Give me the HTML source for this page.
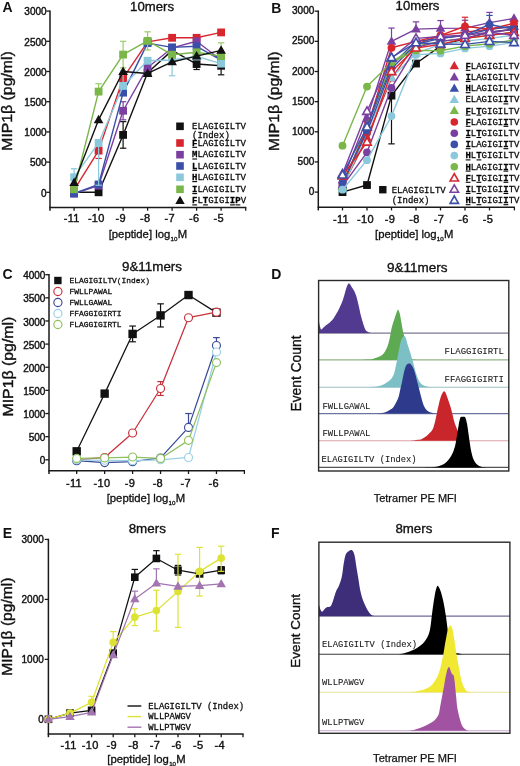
<!DOCTYPE html>
<html><head><meta charset="utf-8"><title>MIP1b figure</title>
<style>html,body{margin:0;padding:0;background:#fff;} svg{display:block;will-change:transform;filter:blur(0.3px);}</style></head>
<body><svg width="520" height="766" viewBox="0 0 520 766">
<rect x="0" y="0" width="520" height="766" fill="#fff"/>
<line x1="50.00" y1="10.40" x2="50.00" y2="210.70" stroke="#1a1a1a" stroke-width="1.5" />
<line x1="49.30" y1="207.50" x2="246.30" y2="207.50" stroke="#1a1a1a" stroke-width="1.5" />
<line x1="46.30" y1="192.30" x2="50.00" y2="192.30" stroke="#1a1a1a" stroke-width="1.3" />
<text x="46.60" y="196.60" font-size="10" text-anchor="end" font-family="'Liberation Sans', sans-serif" font-weight="normal" fill="#111" letter-spacing="0" stroke="#111" stroke-width="0.4">0</text>
<line x1="46.30" y1="162.10" x2="50.00" y2="162.10" stroke="#1a1a1a" stroke-width="1.3" />
<text x="46.60" y="166.40" font-size="10" text-anchor="end" font-family="'Liberation Sans', sans-serif" font-weight="normal" fill="#111" letter-spacing="0" stroke="#111" stroke-width="0.4">500</text>
<line x1="46.30" y1="131.90" x2="50.00" y2="131.90" stroke="#1a1a1a" stroke-width="1.3" />
<text x="46.60" y="136.20" font-size="10" text-anchor="end" font-family="'Liberation Sans', sans-serif" font-weight="normal" fill="#111" letter-spacing="0" stroke="#111" stroke-width="0.4">1000</text>
<line x1="46.30" y1="101.70" x2="50.00" y2="101.70" stroke="#1a1a1a" stroke-width="1.3" />
<text x="46.60" y="106.00" font-size="10" text-anchor="end" font-family="'Liberation Sans', sans-serif" font-weight="normal" fill="#111" letter-spacing="0" stroke="#111" stroke-width="0.4">1500</text>
<line x1="46.30" y1="71.50" x2="50.00" y2="71.50" stroke="#1a1a1a" stroke-width="1.3" />
<text x="46.60" y="75.80" font-size="10" text-anchor="end" font-family="'Liberation Sans', sans-serif" font-weight="normal" fill="#111" letter-spacing="0" stroke="#111" stroke-width="0.4">2000</text>
<line x1="46.30" y1="41.30" x2="50.00" y2="41.30" stroke="#1a1a1a" stroke-width="1.3" />
<text x="46.60" y="45.60" font-size="10" text-anchor="end" font-family="'Liberation Sans', sans-serif" font-weight="normal" fill="#111" letter-spacing="0" stroke="#111" stroke-width="0.4">2500</text>
<line x1="46.30" y1="11.10" x2="50.00" y2="11.10" stroke="#1a1a1a" stroke-width="1.3" />
<text x="46.60" y="15.40" font-size="10" text-anchor="end" font-family="'Liberation Sans', sans-serif" font-weight="normal" fill="#111" letter-spacing="0" stroke="#111" stroke-width="0.4">3000</text>
<line x1="74.10" y1="207.50" x2="74.10" y2="210.70" stroke="#1a1a1a" stroke-width="1.3" />
<line x1="98.60" y1="207.50" x2="98.60" y2="210.70" stroke="#1a1a1a" stroke-width="1.3" />
<line x1="123.10" y1="207.50" x2="123.10" y2="210.70" stroke="#1a1a1a" stroke-width="1.3" />
<line x1="147.60" y1="207.50" x2="147.60" y2="210.70" stroke="#1a1a1a" stroke-width="1.3" />
<line x1="172.10" y1="207.50" x2="172.10" y2="210.70" stroke="#1a1a1a" stroke-width="1.3" />
<line x1="196.60" y1="207.50" x2="196.60" y2="210.70" stroke="#1a1a1a" stroke-width="1.3" />
<line x1="221.10" y1="207.50" x2="221.10" y2="210.70" stroke="#1a1a1a" stroke-width="1.3" />
<line x1="245.70" y1="207.50" x2="245.70" y2="210.70" stroke="#1a1a1a" stroke-width="1.3" />
<text x="71.80" y="222.20" font-size="11" text-anchor="middle" font-family="'Liberation Sans', sans-serif" font-weight="normal" fill="#111" letter-spacing="0.3" stroke="#111" stroke-width="0.4">-11</text>
<text x="96.30" y="222.20" font-size="11" text-anchor="middle" font-family="'Liberation Sans', sans-serif" font-weight="normal" fill="#111" letter-spacing="0.3" stroke="#111" stroke-width="0.4">-10</text>
<text x="120.80" y="222.20" font-size="11" text-anchor="middle" font-family="'Liberation Sans', sans-serif" font-weight="normal" fill="#111" letter-spacing="0.3" stroke="#111" stroke-width="0.4">-9</text>
<text x="145.30" y="222.20" font-size="11" text-anchor="middle" font-family="'Liberation Sans', sans-serif" font-weight="normal" fill="#111" letter-spacing="0.3" stroke="#111" stroke-width="0.4">-8</text>
<text x="169.80" y="222.20" font-size="11" text-anchor="middle" font-family="'Liberation Sans', sans-serif" font-weight="normal" fill="#111" letter-spacing="0.3" stroke="#111" stroke-width="0.4">-7</text>
<text x="194.30" y="222.20" font-size="11" text-anchor="middle" font-family="'Liberation Sans', sans-serif" font-weight="normal" fill="#111" letter-spacing="0.3" stroke="#111" stroke-width="0.4">-6</text>
<text x="218.80" y="222.20" font-size="11" text-anchor="middle" font-family="'Liberation Sans', sans-serif" font-weight="normal" fill="#111" letter-spacing="0.3" stroke="#111" stroke-width="0.4">-5</text>
<text x="108.70" y="237.60" font-size="11.3" font-family="'Liberation Sans', sans-serif" fill="#111" stroke="#111" stroke-width="0.32">[peptide] log<tspan font-size="6.2" dy="3.0" dx="0.3">10</tspan><tspan dy="-3.0" dx="0.2">M</tspan></text>
<text transform="translate(12.10,101.00) rotate(-90)" font-size="15.5" text-anchor="middle" font-family="'Liberation Sans', sans-serif" fill="#111" stroke="#111" stroke-width="0.4" textLength="99.5" lengthAdjust="spacingAndGlyphs">MIP1β (pg/ml)</text>
<text x="130.10" y="10.60" font-size="13.2" text-anchor="start" font-family="'Liberation Sans', sans-serif" font-weight="normal" fill="#111" stroke="#111" stroke-width="0.35" textLength="43.9" lengthAdjust="spacingAndGlyphs">10mers</text>
<text x="2.40" y="11.80" font-size="14" text-anchor="start" font-family="'Liberation Sans', sans-serif" font-weight="bold" fill="#111" >A</text>
<polyline points="74.10,192.30 98.60,192.30 123.10,134.92 147.60,72.71 172.10,50.36 196.60,64.07 221.10,65.76" fill="none" stroke="#111111" stroke-width="1.4" stroke-linejoin="round" />
<line x1="123.10" y1="134.92" x2="123.10" y2="121.63" stroke="#111111" stroke-width="1.2" />
<line x1="119.90" y1="121.63" x2="126.30" y2="121.63" stroke="#111111" stroke-width="1.2" />
<line x1="123.10" y1="134.92" x2="123.10" y2="148.21" stroke="#111111" stroke-width="1.2" />
<line x1="119.90" y1="148.21" x2="126.30" y2="148.21" stroke="#111111" stroke-width="1.2" />
<line x1="196.60" y1="64.07" x2="196.60" y2="69.51" stroke="#111111" stroke-width="1.2" />
<line x1="193.40" y1="69.51" x2="199.80" y2="69.51" stroke="#111111" stroke-width="1.2" />
<line x1="221.10" y1="65.76" x2="221.10" y2="74.82" stroke="#111111" stroke-width="1.2" />
<line x1="217.90" y1="74.82" x2="224.30" y2="74.82" stroke="#111111" stroke-width="1.2" />
<rect x="70.20" y="188.40" width="7.80" height="7.80" fill="#111111"/>
<rect x="94.70" y="188.40" width="7.80" height="7.80" fill="#111111"/>
<rect x="119.20" y="131.02" width="7.80" height="7.80" fill="#111111"/>
<rect x="143.70" y="68.81" width="7.80" height="7.80" fill="#111111"/>
<rect x="168.20" y="46.46" width="7.80" height="7.80" fill="#111111"/>
<rect x="192.70" y="60.17" width="7.80" height="7.80" fill="#111111"/>
<rect x="217.20" y="61.86" width="7.80" height="7.80" fill="#111111"/>
<polyline points="74.10,189.88 98.60,150.62 123.10,78.14 147.60,41.90 172.10,37.80 196.60,37.80 221.10,32.42" fill="none" stroke="#d8262e" stroke-width="1.4" stroke-linejoin="round" />
<line x1="98.60" y1="150.62" x2="98.60" y2="158.48" stroke="#d8262e" stroke-width="1.2" />
<line x1="95.40" y1="158.48" x2="101.80" y2="158.48" stroke="#d8262e" stroke-width="1.2" />
<rect x="70.20" y="185.98" width="7.80" height="7.80" fill="#d8262e"/>
<rect x="94.70" y="146.72" width="7.80" height="7.80" fill="#d8262e"/>
<rect x="119.20" y="74.24" width="7.80" height="7.80" fill="#d8262e"/>
<rect x="143.70" y="38.00" width="7.80" height="7.80" fill="#d8262e"/>
<rect x="168.20" y="33.90" width="7.80" height="7.80" fill="#d8262e"/>
<rect x="192.70" y="33.90" width="7.80" height="7.80" fill="#d8262e"/>
<rect x="217.20" y="28.52" width="7.80" height="7.80" fill="#d8262e"/>
<polyline points="74.10,193.51 98.60,185.66 123.10,110.76 147.60,67.45 172.10,47.94 196.60,41.30 221.10,60.02" fill="none" stroke="#7b3fa0" stroke-width="1.4" stroke-linejoin="round" />
<line x1="123.10" y1="110.76" x2="123.10" y2="101.70" stroke="#7b3fa0" stroke-width="1.2" />
<line x1="119.90" y1="101.70" x2="126.30" y2="101.70" stroke="#7b3fa0" stroke-width="1.2" />
<line x1="123.10" y1="110.76" x2="123.10" y2="119.82" stroke="#7b3fa0" stroke-width="1.2" />
<line x1="119.90" y1="119.82" x2="126.30" y2="119.82" stroke="#7b3fa0" stroke-width="1.2" />
<rect x="70.20" y="189.61" width="7.80" height="7.80" fill="#7b3fa0"/>
<rect x="94.70" y="181.76" width="7.80" height="7.80" fill="#7b3fa0"/>
<rect x="119.20" y="106.86" width="7.80" height="7.80" fill="#7b3fa0"/>
<rect x="143.70" y="63.55" width="7.80" height="7.80" fill="#7b3fa0"/>
<rect x="168.20" y="44.04" width="7.80" height="7.80" fill="#7b3fa0"/>
<rect x="192.70" y="37.40" width="7.80" height="7.80" fill="#7b3fa0"/>
<rect x="217.20" y="56.12" width="7.80" height="7.80" fill="#7b3fa0"/>
<polyline points="74.10,193.51 98.60,184.45 123.10,92.64 147.60,43.11 172.10,47.34 196.60,46.31 221.10,60.02" fill="none" stroke="#3a4fa8" stroke-width="1.4" stroke-linejoin="round" />
<rect x="70.20" y="189.61" width="7.80" height="7.80" fill="#3a4fa8"/>
<rect x="94.70" y="180.55" width="7.80" height="7.80" fill="#3a4fa8"/>
<rect x="119.20" y="88.74" width="7.80" height="7.80" fill="#3a4fa8"/>
<rect x="143.70" y="39.21" width="7.80" height="7.80" fill="#3a4fa8"/>
<rect x="168.20" y="43.44" width="7.80" height="7.80" fill="#3a4fa8"/>
<rect x="192.70" y="42.41" width="7.80" height="7.80" fill="#3a4fa8"/>
<rect x="217.20" y="56.12" width="7.80" height="7.80" fill="#3a4fa8"/>
<polyline points="74.10,177.20 98.60,142.95 123.10,86.00 147.60,60.75 172.10,60.02 196.60,56.40 221.10,63.65" fill="none" stroke="#8cc8dc" stroke-width="1.4" stroke-linejoin="round" />
<line x1="74.10" y1="177.20" x2="74.10" y2="168.74" stroke="#8cc8dc" stroke-width="1.2" />
<line x1="70.90" y1="168.74" x2="77.30" y2="168.74" stroke="#8cc8dc" stroke-width="1.2" />
<line x1="98.60" y1="142.95" x2="98.60" y2="185.23" stroke="#8cc8dc" stroke-width="1.2" />
<line x1="95.40" y1="185.23" x2="101.80" y2="185.23" stroke="#8cc8dc" stroke-width="1.2" />
<line x1="123.10" y1="86.00" x2="123.10" y2="70.90" stroke="#8cc8dc" stroke-width="1.2" />
<line x1="119.90" y1="70.90" x2="126.30" y2="70.90" stroke="#8cc8dc" stroke-width="1.2" />
<line x1="172.10" y1="60.02" x2="172.10" y2="75.73" stroke="#8cc8dc" stroke-width="1.2" />
<line x1="168.90" y1="75.73" x2="175.30" y2="75.73" stroke="#8cc8dc" stroke-width="1.2" />
<rect x="70.20" y="173.30" width="7.80" height="7.80" fill="#8cc8dc"/>
<rect x="94.70" y="139.05" width="7.80" height="7.80" fill="#8cc8dc"/>
<rect x="119.20" y="82.10" width="7.80" height="7.80" fill="#8cc8dc"/>
<rect x="143.70" y="56.85" width="7.80" height="7.80" fill="#8cc8dc"/>
<rect x="168.20" y="56.12" width="7.80" height="7.80" fill="#8cc8dc"/>
<rect x="192.70" y="52.50" width="7.80" height="7.80" fill="#8cc8dc"/>
<rect x="217.20" y="59.75" width="7.80" height="7.80" fill="#8cc8dc"/>
<polyline points="74.10,189.28 98.60,91.61 123.10,54.59 147.60,40.88 172.10,54.71 196.60,52.29 221.10,56.10" fill="none" stroke="#7ab648" stroke-width="1.4" stroke-linejoin="round" />
<line x1="98.60" y1="91.61" x2="98.60" y2="83.76" stroke="#9acb6a" stroke-width="1.2" />
<line x1="95.40" y1="83.76" x2="101.80" y2="83.76" stroke="#9acb6a" stroke-width="1.2" />
<line x1="123.10" y1="54.59" x2="123.10" y2="41.30" stroke="#9acb6a" stroke-width="1.2" />
<line x1="119.90" y1="41.30" x2="126.30" y2="41.30" stroke="#9acb6a" stroke-width="1.2" />
<line x1="123.10" y1="54.59" x2="123.10" y2="67.88" stroke="#9acb6a" stroke-width="1.2" />
<line x1="119.90" y1="67.88" x2="126.30" y2="67.88" stroke="#9acb6a" stroke-width="1.2" />
<line x1="147.60" y1="40.88" x2="147.60" y2="31.82" stroke="#9acb6a" stroke-width="1.2" />
<line x1="144.40" y1="31.82" x2="150.80" y2="31.82" stroke="#9acb6a" stroke-width="1.2" />
<line x1="147.60" y1="40.88" x2="147.60" y2="49.94" stroke="#9acb6a" stroke-width="1.2" />
<line x1="144.40" y1="49.94" x2="150.80" y2="49.94" stroke="#9acb6a" stroke-width="1.2" />
<line x1="221.10" y1="56.10" x2="221.10" y2="42.81" stroke="#9acb6a" stroke-width="1.2" />
<line x1="217.90" y1="42.81" x2="224.30" y2="42.81" stroke="#9acb6a" stroke-width="1.2" />
<rect x="70.20" y="185.38" width="7.80" height="7.80" fill="#7ab648"/>
<rect x="94.70" y="87.71" width="7.80" height="7.80" fill="#7ab648"/>
<rect x="119.20" y="50.69" width="7.80" height="7.80" fill="#7ab648"/>
<rect x="143.70" y="36.98" width="7.80" height="7.80" fill="#7ab648"/>
<rect x="168.20" y="50.81" width="7.80" height="7.80" fill="#7ab648"/>
<rect x="192.70" y="48.39" width="7.80" height="7.80" fill="#7ab648"/>
<rect x="217.20" y="52.20" width="7.80" height="7.80" fill="#7ab648"/>
<polyline points="74.10,182.64 98.60,119.82 123.10,71.50 147.60,73.49 172.10,61.96 196.60,56.10 221.10,50.36" fill="none" stroke="#111111" stroke-width="1.4" stroke-linejoin="round" />
<polygon points="74.10,177.56 78.94,186.02 69.26,186.02" fill="#111111"/>
<polygon points="98.60,114.74 103.44,123.21 93.76,123.21" fill="#111111"/>
<polygon points="123.10,66.42 127.94,74.89 118.26,74.89" fill="#111111"/>
<polygon points="147.60,68.42 152.44,76.88 142.76,76.88" fill="#111111"/>
<polygon points="172.10,56.88 176.94,65.34 167.26,65.34" fill="#111111"/>
<polygon points="196.60,51.02 201.44,59.48 191.76,59.48" fill="#111111"/>
<polygon points="221.10,45.28 225.94,53.75 216.26,53.75" fill="#111111"/>
<rect x="176.20" y="122.50" width="7.60" height="7.60" fill="#111"/>
<text x="192.00" y="129.00" font-size="9" font-family="'Liberation Mono', monospace" font-weight="normal" fill="#0a0a0a" stroke="#0a0a0a" stroke-width="0.28" xml:space="preserve">ELAGIGILTV</text>
<text x="192.00" y="137.60" font-size="9" font-family="'Liberation Mono', monospace" font-weight="normal" fill="#0a0a0a" stroke="#0a0a0a" stroke-width="0.28" xml:space="preserve">(Index)</text>
<rect x="176.20" y="139.20" width="7.60" height="7.60" fill="#d8262e"/>
<text x="192.00" y="145.70" font-size="9" font-family="'Liberation Mono', monospace" font-weight="normal" fill="#0a0a0a" stroke="#0a0a0a" stroke-width="0.28" xml:space="preserve"><tspan font-weight="bold" fill="#000">F</tspan>LAGIGILTV</text>
<line x1="192.30" y1="147.30" x2="197.10" y2="147.30" stroke="#000" stroke-width="1.1" />
<rect x="176.20" y="150.90" width="7.60" height="7.60" fill="#7b3fa0"/>
<text x="192.00" y="157.40" font-size="9" font-family="'Liberation Mono', monospace" font-weight="normal" fill="#0a0a0a" stroke="#0a0a0a" stroke-width="0.28" xml:space="preserve"><tspan font-weight="bold" fill="#000">M</tspan>LAGIGILTV</text>
<line x1="192.30" y1="159.00" x2="197.10" y2="159.00" stroke="#000" stroke-width="1.1" />
<rect x="176.20" y="162.20" width="7.60" height="7.60" fill="#3a4fa8"/>
<text x="192.00" y="168.70" font-size="9" font-family="'Liberation Mono', monospace" font-weight="normal" fill="#0a0a0a" stroke="#0a0a0a" stroke-width="0.28" xml:space="preserve"><tspan font-weight="bold" fill="#000">L</tspan>LAGIGILTV</text>
<line x1="192.30" y1="170.30" x2="197.10" y2="170.30" stroke="#000" stroke-width="1.1" />
<rect x="176.20" y="173.50" width="7.60" height="7.60" fill="#8cc8dc"/>
<text x="192.00" y="180.00" font-size="9" font-family="'Liberation Mono', monospace" font-weight="normal" fill="#0a0a0a" stroke="#0a0a0a" stroke-width="0.28" xml:space="preserve"><tspan font-weight="bold" fill="#000">H</tspan>LAGIGILTV</text>
<line x1="192.30" y1="181.60" x2="197.10" y2="181.60" stroke="#000" stroke-width="1.1" />
<rect x="176.20" y="185.50" width="7.60" height="7.60" fill="#7ab648"/>
<text x="192.00" y="192.00" font-size="9" font-family="'Liberation Mono', monospace" font-weight="normal" fill="#0a0a0a" stroke="#0a0a0a" stroke-width="0.28" xml:space="preserve"><tspan font-weight="bold" fill="#000">I</tspan>LAGIGILTV</text>
<line x1="192.30" y1="193.60" x2="197.10" y2="193.60" stroke="#000" stroke-width="1.1" />
<polygon points="180.00,195.65 184.71,203.90 175.29,203.90" fill="#111"/>
<text x="192.00" y="203.30" font-size="9" font-family="'Liberation Mono', monospace" font-weight="normal" fill="#0a0a0a" stroke="#0a0a0a" stroke-width="0.28" xml:space="preserve"><tspan font-weight="bold" fill="#000">F</tspan>L<tspan font-weight="bold" fill="#000">T</tspan>GIGI<tspan font-weight="bold" fill="#000">I</tspan><tspan font-weight="bold" fill="#000">P</tspan>V</text>
<line x1="192.30" y1="204.90" x2="197.10" y2="204.90" stroke="#000" stroke-width="1.1" />
<line x1="203.10" y1="204.90" x2="207.90" y2="204.90" stroke="#000" stroke-width="1.1" />
<line x1="230.10" y1="204.90" x2="234.90" y2="204.90" stroke="#000" stroke-width="1.1" />
<line x1="235.50" y1="204.90" x2="240.30" y2="204.90" stroke="#000" stroke-width="1.1" />
<line x1="318.30" y1="10.50" x2="318.30" y2="210.40" stroke="#1a1a1a" stroke-width="1.5" />
<line x1="317.60" y1="207.20" x2="515.00" y2="207.20" stroke="#1a1a1a" stroke-width="1.5" />
<line x1="314.60" y1="192.10" x2="318.30" y2="192.10" stroke="#1a1a1a" stroke-width="1.3" />
<text x="314.30" y="195.20" font-size="10" text-anchor="end" font-family="'Liberation Sans', sans-serif" font-weight="normal" fill="#111" letter-spacing="0" stroke="#111" stroke-width="0.4">0</text>
<line x1="314.60" y1="161.95" x2="318.30" y2="161.95" stroke="#1a1a1a" stroke-width="1.3" />
<text x="314.30" y="165.05" font-size="10" text-anchor="end" font-family="'Liberation Sans', sans-serif" font-weight="normal" fill="#111" letter-spacing="0" stroke="#111" stroke-width="0.4">500</text>
<line x1="314.60" y1="131.80" x2="318.30" y2="131.80" stroke="#1a1a1a" stroke-width="1.3" />
<text x="314.30" y="134.90" font-size="10" text-anchor="end" font-family="'Liberation Sans', sans-serif" font-weight="normal" fill="#111" letter-spacing="0" stroke="#111" stroke-width="0.4">1000</text>
<line x1="314.60" y1="101.65" x2="318.30" y2="101.65" stroke="#1a1a1a" stroke-width="1.3" />
<text x="314.30" y="104.75" font-size="10" text-anchor="end" font-family="'Liberation Sans', sans-serif" font-weight="normal" fill="#111" letter-spacing="0" stroke="#111" stroke-width="0.4">1500</text>
<line x1="314.60" y1="71.50" x2="318.30" y2="71.50" stroke="#1a1a1a" stroke-width="1.3" />
<text x="314.30" y="74.60" font-size="10" text-anchor="end" font-family="'Liberation Sans', sans-serif" font-weight="normal" fill="#111" letter-spacing="0" stroke="#111" stroke-width="0.4">2000</text>
<line x1="314.60" y1="41.35" x2="318.30" y2="41.35" stroke="#1a1a1a" stroke-width="1.3" />
<text x="314.30" y="44.45" font-size="10" text-anchor="end" font-family="'Liberation Sans', sans-serif" font-weight="normal" fill="#111" letter-spacing="0" stroke="#111" stroke-width="0.4">2500</text>
<line x1="314.60" y1="11.20" x2="318.30" y2="11.20" stroke="#1a1a1a" stroke-width="1.3" />
<text x="314.30" y="14.30" font-size="10" text-anchor="end" font-family="'Liberation Sans', sans-serif" font-weight="normal" fill="#111" letter-spacing="0" stroke="#111" stroke-width="0.4">3000</text>
<line x1="342.50" y1="207.20" x2="342.50" y2="210.40" stroke="#1a1a1a" stroke-width="1.3" />
<line x1="367.00" y1="207.20" x2="367.00" y2="210.40" stroke="#1a1a1a" stroke-width="1.3" />
<line x1="391.50" y1="207.20" x2="391.50" y2="210.40" stroke="#1a1a1a" stroke-width="1.3" />
<line x1="416.00" y1="207.20" x2="416.00" y2="210.40" stroke="#1a1a1a" stroke-width="1.3" />
<line x1="440.50" y1="207.20" x2="440.50" y2="210.40" stroke="#1a1a1a" stroke-width="1.3" />
<line x1="465.00" y1="207.20" x2="465.00" y2="210.40" stroke="#1a1a1a" stroke-width="1.3" />
<line x1="489.50" y1="207.20" x2="489.50" y2="210.40" stroke="#1a1a1a" stroke-width="1.3" />
<line x1="514.40" y1="207.20" x2="514.40" y2="210.40" stroke="#1a1a1a" stroke-width="1.3" />
<text x="341.00" y="223.20" font-size="11" text-anchor="middle" font-family="'Liberation Sans', sans-serif" font-weight="normal" fill="#111" letter-spacing="0.3" stroke="#111" stroke-width="0.4">-11</text>
<text x="365.50" y="223.20" font-size="11" text-anchor="middle" font-family="'Liberation Sans', sans-serif" font-weight="normal" fill="#111" letter-spacing="0.3" stroke="#111" stroke-width="0.4">-10</text>
<text x="390.00" y="223.20" font-size="11" text-anchor="middle" font-family="'Liberation Sans', sans-serif" font-weight="normal" fill="#111" letter-spacing="0.3" stroke="#111" stroke-width="0.4">-9</text>
<text x="414.50" y="223.20" font-size="11" text-anchor="middle" font-family="'Liberation Sans', sans-serif" font-weight="normal" fill="#111" letter-spacing="0.3" stroke="#111" stroke-width="0.4">-8</text>
<text x="439.00" y="223.20" font-size="11" text-anchor="middle" font-family="'Liberation Sans', sans-serif" font-weight="normal" fill="#111" letter-spacing="0.3" stroke="#111" stroke-width="0.4">-7</text>
<text x="463.50" y="223.20" font-size="11" text-anchor="middle" font-family="'Liberation Sans', sans-serif" font-weight="normal" fill="#111" letter-spacing="0.3" stroke="#111" stroke-width="0.4">-6</text>
<text x="488.00" y="223.20" font-size="11" text-anchor="middle" font-family="'Liberation Sans', sans-serif" font-weight="normal" fill="#111" letter-spacing="0.3" stroke="#111" stroke-width="0.4">-5</text>
<text x="375.00" y="238.20" font-size="11.3" font-family="'Liberation Sans', sans-serif" fill="#111" stroke="#111" stroke-width="0.32">[peptide] log<tspan font-size="6.2" dy="3.0" dx="0.3">10</tspan><tspan dy="-3.0" dx="0.2">M</tspan></text>
<text transform="translate(278.50,101.20) rotate(-90)" font-size="15.5" text-anchor="middle" font-family="'Liberation Sans', sans-serif" fill="#111" stroke="#111" stroke-width="0.4" textLength="99.5" lengthAdjust="spacingAndGlyphs">MIP1β (pg/ml)</text>
<text x="395.60" y="9.80" font-size="13.2" text-anchor="start" font-family="'Liberation Sans', sans-serif" font-weight="normal" fill="#111" stroke="#111" stroke-width="0.35" textLength="43.8" lengthAdjust="spacingAndGlyphs">10mers</text>
<text x="271.30" y="12.70" font-size="14" text-anchor="start" font-family="'Liberation Sans', sans-serif" font-weight="bold" fill="#111" >B</text>
<polyline points="342.50,192.10 367.00,185.04 391.50,95.62 416.00,63.54 440.50,46.17 465.00,38.34 489.50,32.31 514.00,29.29" fill="none" stroke="#111" stroke-width="1.4" stroke-linejoin="round" />
<line x1="391.50" y1="95.62" x2="391.50" y2="143.86" stroke="#111" stroke-width="1.2" />
<line x1="388.30" y1="143.86" x2="394.70" y2="143.86" stroke="#111" stroke-width="1.2" />
<rect x="338.60" y="188.20" width="7.80" height="7.80" fill="#111"/>
<rect x="363.10" y="181.14" width="7.80" height="7.80" fill="#111"/>
<rect x="387.60" y="91.72" width="7.80" height="7.80" fill="#111"/>
<rect x="412.10" y="59.64" width="7.80" height="7.80" fill="#111"/>
<rect x="436.60" y="42.27" width="7.80" height="7.80" fill="#111"/>
<rect x="461.10" y="34.44" width="7.80" height="7.80" fill="#111"/>
<rect x="485.60" y="28.41" width="7.80" height="7.80" fill="#111"/>
<rect x="510.10" y="25.39" width="7.80" height="7.80" fill="#111"/>
<polyline points="342.50,186.07 367.00,137.83 391.50,78.13 416.00,44.37 440.50,35.32 465.00,32.31 489.50,29.29 514.00,26.28" fill="none" stroke="#d8262e" stroke-width="1.4" stroke-linejoin="round" />
<polygon points="342.50,180.99 347.34,189.46 337.66,189.46" fill="#d8262e"/>
<polygon points="367.00,132.75 371.84,141.22 362.16,141.22" fill="#d8262e"/>
<polygon points="391.50,73.06 396.34,81.52 386.66,81.52" fill="#d8262e"/>
<polygon points="416.00,39.29 420.84,47.75 411.16,47.75" fill="#d8262e"/>
<polygon points="440.50,30.24 445.34,38.71 435.66,38.71" fill="#d8262e"/>
<polygon points="465.00,27.23 469.84,35.69 460.16,35.69" fill="#d8262e"/>
<polygon points="489.50,24.21 494.34,32.68 484.66,32.68" fill="#d8262e"/>
<polygon points="514.00,21.20 518.84,29.66 509.16,29.66" fill="#d8262e"/>
<polyline points="342.50,180.04 367.00,118.53 391.50,41.35 416.00,29.11 440.50,28.39 465.00,28.08 489.50,22.66 514.00,18.44" fill="none" stroke="#7b3fa0" stroke-width="1.4" stroke-linejoin="round" />
<line x1="391.50" y1="41.35" x2="391.50" y2="28.08" stroke="#7b3fa0" stroke-width="1.2" />
<line x1="388.30" y1="28.08" x2="394.70" y2="28.08" stroke="#7b3fa0" stroke-width="1.2" />
<line x1="416.00" y1="29.11" x2="416.00" y2="21.87" stroke="#7b3fa0" stroke-width="1.2" />
<line x1="412.80" y1="21.87" x2="419.20" y2="21.87" stroke="#7b3fa0" stroke-width="1.2" />
<line x1="440.50" y1="28.39" x2="440.50" y2="20.55" stroke="#7b3fa0" stroke-width="1.2" />
<line x1="437.30" y1="20.55" x2="443.70" y2="20.55" stroke="#7b3fa0" stroke-width="1.2" />
<line x1="465.00" y1="28.08" x2="465.00" y2="20.25" stroke="#7b3fa0" stroke-width="1.2" />
<line x1="461.80" y1="20.25" x2="468.20" y2="20.25" stroke="#7b3fa0" stroke-width="1.2" />
<line x1="489.50" y1="22.66" x2="489.50" y2="12.41" stroke="#7b3fa0" stroke-width="1.2" />
<line x1="486.30" y1="12.41" x2="492.70" y2="12.41" stroke="#7b3fa0" stroke-width="1.2" />
<polygon points="342.50,174.96 347.34,183.43 337.66,183.43" fill="#7b3fa0"/>
<polygon points="367.00,113.46 371.84,121.92 362.16,121.92" fill="#7b3fa0"/>
<polygon points="391.50,36.27 396.34,44.74 386.66,44.74" fill="#7b3fa0"/>
<polygon points="416.00,24.03 420.84,32.49 411.16,32.49" fill="#7b3fa0"/>
<polygon points="440.50,23.31 445.34,31.77 435.66,31.77" fill="#7b3fa0"/>
<polygon points="465.00,23.01 469.84,31.47 460.16,31.47" fill="#7b3fa0"/>
<polygon points="489.50,17.58 494.34,26.04 484.66,26.04" fill="#7b3fa0"/>
<polygon points="514.00,13.36 518.84,21.82 509.16,21.82" fill="#7b3fa0"/>
<polyline points="342.50,184.86 367.00,126.98 391.50,65.47 416.00,41.35 440.50,38.34 465.00,35.32 489.50,29.29 514.00,26.28" fill="none" stroke="#3a4fa8" stroke-width="1.4" stroke-linejoin="round" />
<polygon points="342.50,179.79 347.34,188.25 337.66,188.25" fill="#3a4fa8"/>
<polygon points="367.00,121.90 371.84,130.36 362.16,130.36" fill="#3a4fa8"/>
<polygon points="391.50,60.39 396.34,68.86 386.66,68.86" fill="#3a4fa8"/>
<polygon points="416.00,36.27 420.84,44.74 411.16,44.74" fill="#3a4fa8"/>
<polygon points="440.50,33.26 445.34,41.72 435.66,41.72" fill="#3a4fa8"/>
<polygon points="465.00,30.24 469.84,38.71 460.16,38.71" fill="#3a4fa8"/>
<polygon points="489.50,24.21 494.34,32.68 484.66,32.68" fill="#3a4fa8"/>
<polygon points="514.00,21.20 518.84,29.66 509.16,29.66" fill="#3a4fa8"/>
<polyline points="342.50,188.48 367.00,131.80 391.50,77.53 416.00,53.41 440.50,44.37 465.00,41.35 489.50,38.34 514.00,35.32" fill="none" stroke="#8cc8dc" stroke-width="1.4" stroke-linejoin="round" />
<polygon points="342.50,183.40 347.34,191.87 337.66,191.87" fill="#8cc8dc"/>
<polygon points="367.00,126.72 371.84,135.19 362.16,135.19" fill="#8cc8dc"/>
<polygon points="391.50,72.45 396.34,80.92 386.66,80.92" fill="#8cc8dc"/>
<polygon points="416.00,48.33 420.84,56.80 411.16,56.80" fill="#8cc8dc"/>
<polygon points="440.50,39.29 445.34,47.75 435.66,47.75" fill="#8cc8dc"/>
<polygon points="465.00,36.27 469.84,44.74 460.16,44.74" fill="#8cc8dc"/>
<polygon points="489.50,33.26 494.34,41.72 484.66,41.72" fill="#8cc8dc"/>
<polygon points="514.00,30.24 518.84,38.71 509.16,38.71" fill="#8cc8dc"/>
<polyline points="342.50,186.67 367.00,125.77 391.50,62.45 416.00,46.17 440.50,41.35 465.00,38.34 489.50,35.32 514.00,32.31" fill="none" stroke="#7ab648" stroke-width="1.4" stroke-linejoin="round" />
<polygon points="342.50,181.60 347.34,190.06 337.66,190.06" fill="#7ab648"/>
<polygon points="367.00,120.69 371.84,129.16 362.16,129.16" fill="#7ab648"/>
<polygon points="391.50,57.38 396.34,65.84 386.66,65.84" fill="#7ab648"/>
<polygon points="416.00,41.10 420.84,49.56 411.16,49.56" fill="#7ab648"/>
<polygon points="440.50,36.27 445.34,44.74 435.66,44.74" fill="#7ab648"/>
<polygon points="465.00,33.26 469.84,41.72 460.16,41.72" fill="#7ab648"/>
<polygon points="489.50,30.24 494.34,38.71 484.66,38.71" fill="#7ab648"/>
<polygon points="514.00,27.23 518.84,35.69 509.16,35.69" fill="#7ab648"/>
<polyline points="342.50,184.86 367.00,128.78 391.50,47.80 416.00,41.35 440.50,35.32 465.00,26.28 489.50,29.29 514.00,23.26" fill="none" stroke="#d8262e" stroke-width="1.4" stroke-linejoin="round" />
<line x1="367.00" y1="128.78" x2="367.00" y2="122.75" stroke="#d8262e" stroke-width="1.2" />
<line x1="363.80" y1="122.75" x2="370.20" y2="122.75" stroke="#d8262e" stroke-width="1.2" />
<line x1="465.00" y1="26.28" x2="465.00" y2="17.23" stroke="#d8262e" stroke-width="1.2" />
<line x1="461.80" y1="17.23" x2="468.20" y2="17.23" stroke="#d8262e" stroke-width="1.2" />
<circle cx="342.50" cy="184.86" r="3.90" fill="#d8262e"/>
<circle cx="367.00" cy="128.78" r="3.90" fill="#d8262e"/>
<circle cx="391.50" cy="47.80" r="3.90" fill="#d8262e"/>
<circle cx="416.00" cy="41.35" r="3.90" fill="#d8262e"/>
<circle cx="440.50" cy="35.32" r="3.90" fill="#d8262e"/>
<circle cx="465.00" cy="26.28" r="3.90" fill="#d8262e"/>
<circle cx="489.50" cy="29.29" r="3.90" fill="#d8262e"/>
<circle cx="514.00" cy="23.26" r="3.90" fill="#d8262e"/>
<polyline points="342.50,186.07 367.00,152.30 391.50,87.78 416.00,47.38 440.50,41.35 465.00,38.34 489.50,32.31 514.00,29.29" fill="none" stroke="#7b3fa0" stroke-width="1.4" stroke-linejoin="round" />
<circle cx="342.50" cy="186.07" r="3.90" fill="#7b3fa0"/>
<circle cx="367.00" cy="152.30" r="3.90" fill="#7b3fa0"/>
<circle cx="391.50" cy="87.78" r="3.90" fill="#7b3fa0"/>
<circle cx="416.00" cy="47.38" r="3.90" fill="#7b3fa0"/>
<circle cx="440.50" cy="41.35" r="3.90" fill="#7b3fa0"/>
<circle cx="465.00" cy="38.34" r="3.90" fill="#7b3fa0"/>
<circle cx="489.50" cy="32.31" r="3.90" fill="#7b3fa0"/>
<circle cx="514.00" cy="29.29" r="3.90" fill="#7b3fa0"/>
<polyline points="342.50,182.45 367.00,131.80 391.50,68.48 416.00,44.37 440.50,38.34 465.00,35.32 489.50,24.47 514.00,29.29" fill="none" stroke="#3a4fa8" stroke-width="1.4" stroke-linejoin="round" />
<line x1="489.50" y1="24.47" x2="489.50" y2="15.42" stroke="#3a4fa8" stroke-width="1.2" />
<line x1="486.30" y1="15.42" x2="492.70" y2="15.42" stroke="#3a4fa8" stroke-width="1.2" />
<circle cx="342.50" cy="182.45" r="3.90" fill="#3a4fa8"/>
<circle cx="367.00" cy="131.80" r="3.90" fill="#3a4fa8"/>
<circle cx="391.50" cy="68.48" r="3.90" fill="#3a4fa8"/>
<circle cx="416.00" cy="44.37" r="3.90" fill="#3a4fa8"/>
<circle cx="440.50" cy="38.34" r="3.90" fill="#3a4fa8"/>
<circle cx="465.00" cy="35.32" r="3.90" fill="#3a4fa8"/>
<circle cx="489.50" cy="24.47" r="3.90" fill="#3a4fa8"/>
<circle cx="514.00" cy="29.29" r="3.90" fill="#3a4fa8"/>
<polyline points="342.50,189.69 367.00,160.14 391.50,116.12 416.00,54.80 440.50,53.41 465.00,48.41 489.50,46.17 514.00,42.56" fill="none" stroke="#8cc8dc" stroke-width="1.4" stroke-linejoin="round" />
<circle cx="342.50" cy="189.69" r="3.90" fill="#8cc8dc"/>
<circle cx="367.00" cy="160.14" r="3.90" fill="#8cc8dc"/>
<circle cx="391.50" cy="116.12" r="3.90" fill="#8cc8dc"/>
<circle cx="416.00" cy="54.80" r="3.90" fill="#8cc8dc"/>
<circle cx="440.50" cy="53.41" r="3.90" fill="#8cc8dc"/>
<circle cx="465.00" cy="48.41" r="3.90" fill="#8cc8dc"/>
<circle cx="489.50" cy="46.17" r="3.90" fill="#8cc8dc"/>
<circle cx="514.00" cy="42.56" r="3.90" fill="#8cc8dc"/>
<polyline points="342.50,145.67 367.00,86.57 391.50,62.45 416.00,50.39 440.50,50.70 465.00,46.17 489.50,43.76 514.00,40.14" fill="none" stroke="#7ab648" stroke-width="1.4" stroke-linejoin="round" />
<circle cx="342.50" cy="145.67" r="3.90" fill="#7ab648"/>
<circle cx="367.00" cy="86.57" r="3.90" fill="#7ab648"/>
<circle cx="391.50" cy="62.45" r="3.90" fill="#7ab648"/>
<circle cx="416.00" cy="50.39" r="3.90" fill="#7ab648"/>
<circle cx="440.50" cy="50.70" r="3.90" fill="#7ab648"/>
<circle cx="465.00" cy="46.17" r="3.90" fill="#7ab648"/>
<circle cx="489.50" cy="43.76" r="3.90" fill="#7ab648"/>
<circle cx="514.00" cy="40.14" r="3.90" fill="#7ab648"/>
<polyline points="342.50,175.82 367.00,142.05 391.50,71.50 416.00,47.98 440.50,44.37 465.00,38.34 489.50,35.32 514.00,32.31" fill="none" stroke="#d8262e" stroke-width="1.4" stroke-linejoin="round" />
<line x1="367.00" y1="142.05" x2="367.00" y2="134.81" stroke="#d8262e" stroke-width="1.2" />
<line x1="363.80" y1="134.81" x2="370.20" y2="134.81" stroke="#d8262e" stroke-width="1.2" />
<polygon points="342.50,171.29 346.80,178.90 338.20,178.90" fill="#fff" stroke="#d8262e" stroke-width="1.6"/>
<polygon points="367.00,137.53 371.30,145.13 362.70,145.13" fill="#fff" stroke="#d8262e" stroke-width="1.6"/>
<polygon points="391.50,66.98 395.80,74.58 387.20,74.58" fill="#fff" stroke="#d8262e" stroke-width="1.6"/>
<polygon points="416.00,43.46 420.30,51.06 411.70,51.06" fill="#fff" stroke="#d8262e" stroke-width="1.6"/>
<polygon points="440.50,39.84 444.80,47.44 436.20,47.44" fill="#fff" stroke="#d8262e" stroke-width="1.6"/>
<polygon points="465.00,33.81 469.30,41.41 460.70,41.41" fill="#fff" stroke="#d8262e" stroke-width="1.6"/>
<polygon points="489.50,30.80 493.80,38.40 485.20,38.40" fill="#fff" stroke="#d8262e" stroke-width="1.6"/>
<polygon points="514.00,27.78 518.30,35.38 509.70,35.38" fill="#fff" stroke="#d8262e" stroke-width="1.6"/>
<polyline points="342.50,174.01 367.00,111.30 391.50,58.23 416.00,38.34 440.50,36.53 465.00,35.32 489.50,32.31 514.00,35.32" fill="none" stroke="#7b3fa0" stroke-width="1.4" stroke-linejoin="round" />
<polygon points="342.50,169.49 346.80,177.09 338.20,177.09" fill="#fff" stroke="#7b3fa0" stroke-width="1.6"/>
<polygon points="367.00,106.77 371.30,114.37 362.70,114.37" fill="#fff" stroke="#7b3fa0" stroke-width="1.6"/>
<polygon points="391.50,53.71 395.80,61.31 387.20,61.31" fill="#fff" stroke="#7b3fa0" stroke-width="1.6"/>
<polygon points="416.00,33.81 420.30,41.41 411.70,41.41" fill="#fff" stroke="#7b3fa0" stroke-width="1.6"/>
<polygon points="440.50,32.00 444.80,39.60 436.20,39.60" fill="#fff" stroke="#7b3fa0" stroke-width="1.6"/>
<polygon points="465.00,30.80 469.30,38.40 460.70,38.40" fill="#fff" stroke="#7b3fa0" stroke-width="1.6"/>
<polygon points="489.50,27.78 493.80,35.38 485.20,35.38" fill="#fff" stroke="#7b3fa0" stroke-width="1.6"/>
<polygon points="514.00,30.80 518.30,38.40 509.70,38.40" fill="#fff" stroke="#7b3fa0" stroke-width="1.6"/>
<polyline points="342.50,174.91 367.00,126.98 391.50,57.51 416.00,42.68 440.50,43.94 465.00,44.37 489.50,41.35 514.00,42.56" fill="none" stroke="#3a4fa8" stroke-width="1.4" stroke-linejoin="round" />
<polygon points="342.50,170.39 346.80,177.99 338.20,177.99" fill="#fff" stroke="#3a4fa8" stroke-width="1.6"/>
<polygon points="367.00,122.45 371.30,130.05 362.70,130.05" fill="#fff" stroke="#3a4fa8" stroke-width="1.6"/>
<polygon points="391.50,52.99 395.80,60.59 387.20,60.59" fill="#fff" stroke="#3a4fa8" stroke-width="1.6"/>
<polygon points="416.00,38.15 420.30,45.75 411.70,45.75" fill="#fff" stroke="#3a4fa8" stroke-width="1.6"/>
<polygon points="440.50,39.42 444.80,47.02 436.20,47.02" fill="#fff" stroke="#3a4fa8" stroke-width="1.6"/>
<polygon points="465.00,39.84 469.30,47.44 460.70,47.44" fill="#fff" stroke="#3a4fa8" stroke-width="1.6"/>
<polygon points="489.50,36.83 493.80,44.43 485.20,44.43" fill="#fff" stroke="#3a4fa8" stroke-width="1.6"/>
<polygon points="514.00,38.03 518.30,45.63 509.70,45.63" fill="#fff" stroke="#3a4fa8" stroke-width="1.6"/>
<polygon points="454.30,61.05 459.01,69.30 449.59,69.30" fill="#d8262e"/>
<text x="465.40" y="68.70" font-size="9" font-family="'Liberation Mono', monospace" font-weight="normal" fill="#0a0a0a" stroke="#0a0a0a" stroke-width="0.28" xml:space="preserve"><tspan font-weight="bold" fill="#000">F</tspan>LAGIGILTV</text>
<line x1="465.70" y1="70.30" x2="470.50" y2="70.30" stroke="#000" stroke-width="1.1" />
<polygon points="454.30,72.25 459.01,80.50 449.59,80.50" fill="#7b3fa0"/>
<text x="465.40" y="79.90" font-size="9" font-family="'Liberation Mono', monospace" font-weight="normal" fill="#0a0a0a" stroke="#0a0a0a" stroke-width="0.28" xml:space="preserve"><tspan font-weight="bold" fill="#000">I</tspan>LAGIGILTV</text>
<line x1="465.70" y1="81.50" x2="470.50" y2="81.50" stroke="#000" stroke-width="1.1" />
<polygon points="454.30,83.45 459.01,91.70 449.59,91.70" fill="#3a4fa8"/>
<text x="465.40" y="91.10" font-size="9" font-family="'Liberation Mono', monospace" font-weight="normal" fill="#0a0a0a" stroke="#0a0a0a" stroke-width="0.28" xml:space="preserve"><tspan font-weight="bold" fill="#000">H</tspan>LAGIGILTV</text>
<line x1="465.70" y1="92.70" x2="470.50" y2="92.70" stroke="#000" stroke-width="1.1" />
<polygon points="454.30,94.65 459.01,102.90 449.59,102.90" fill="#8cc8dc"/>
<text x="465.40" y="102.30" font-size="9" font-family="'Liberation Mono', monospace" font-weight="normal" fill="#0a0a0a" stroke="#0a0a0a" stroke-width="0.28" xml:space="preserve">ELAGIGI<tspan font-weight="bold" fill="#000">I</tspan>TV</text>
<line x1="503.50" y1="103.90" x2="508.30" y2="103.90" stroke="#000" stroke-width="1.1" />
<polygon points="454.30,105.85 459.01,114.10 449.59,114.10" fill="#7ab648"/>
<text x="465.40" y="113.50" font-size="9" font-family="'Liberation Mono', monospace" font-weight="normal" fill="#0a0a0a" stroke="#0a0a0a" stroke-width="0.28" xml:space="preserve"><tspan font-weight="bold" fill="#000">F</tspan>L<tspan font-weight="bold" fill="#000">T</tspan>GIGILTV</text>
<line x1="465.70" y1="115.10" x2="470.50" y2="115.10" stroke="#000" stroke-width="1.1" />
<line x1="476.50" y1="115.10" x2="481.30" y2="115.10" stroke="#000" stroke-width="1.1" />
<circle cx="454.30" cy="122.00" r="3.80" fill="#d8262e"/>
<text x="465.40" y="124.70" font-size="9" font-family="'Liberation Mono', monospace" font-weight="normal" fill="#0a0a0a" stroke="#0a0a0a" stroke-width="0.28" xml:space="preserve"><tspan font-weight="bold" fill="#000">F</tspan>LAGIGI<tspan font-weight="bold" fill="#000">I</tspan>TV</text>
<line x1="465.70" y1="126.30" x2="470.50" y2="126.30" stroke="#000" stroke-width="1.1" />
<line x1="503.50" y1="126.30" x2="508.30" y2="126.30" stroke="#000" stroke-width="1.1" />
<circle cx="454.30" cy="133.20" r="3.80" fill="#7b3fa0"/>
<text x="465.40" y="135.90" font-size="9" font-family="'Liberation Mono', monospace" font-weight="normal" fill="#0a0a0a" stroke="#0a0a0a" stroke-width="0.28" xml:space="preserve"><tspan font-weight="bold" fill="#000">I</tspan>L<tspan font-weight="bold" fill="#000">T</tspan>GIGILTV</text>
<line x1="465.70" y1="137.50" x2="470.50" y2="137.50" stroke="#000" stroke-width="1.1" />
<line x1="476.50" y1="137.50" x2="481.30" y2="137.50" stroke="#000" stroke-width="1.1" />
<circle cx="454.30" cy="144.40" r="3.80" fill="#3a4fa8"/>
<text x="465.40" y="147.10" font-size="9" font-family="'Liberation Mono', monospace" font-weight="normal" fill="#0a0a0a" stroke="#0a0a0a" stroke-width="0.28" xml:space="preserve"><tspan font-weight="bold" fill="#000">I</tspan>LAGIGI<tspan font-weight="bold" fill="#000">I</tspan>TV</text>
<line x1="465.70" y1="148.70" x2="470.50" y2="148.70" stroke="#000" stroke-width="1.1" />
<line x1="503.50" y1="148.70" x2="508.30" y2="148.70" stroke="#000" stroke-width="1.1" />
<circle cx="454.30" cy="155.60" r="3.80" fill="#8cc8dc"/>
<text x="465.40" y="158.30" font-size="9" font-family="'Liberation Mono', monospace" font-weight="normal" fill="#0a0a0a" stroke="#0a0a0a" stroke-width="0.28" xml:space="preserve"><tspan font-weight="bold" fill="#000">H</tspan>L<tspan font-weight="bold" fill="#000">T</tspan>GIGILTV</text>
<line x1="465.70" y1="159.90" x2="470.50" y2="159.90" stroke="#000" stroke-width="1.1" />
<line x1="476.50" y1="159.90" x2="481.30" y2="159.90" stroke="#000" stroke-width="1.1" />
<circle cx="454.30" cy="166.80" r="3.80" fill="#7ab648"/>
<text x="465.40" y="169.50" font-size="9" font-family="'Liberation Mono', monospace" font-weight="normal" fill="#0a0a0a" stroke="#0a0a0a" stroke-width="0.28" xml:space="preserve"><tspan font-weight="bold" fill="#000">H</tspan>LAGIGI<tspan font-weight="bold" fill="#000">I</tspan>TV</text>
<line x1="465.70" y1="171.10" x2="470.50" y2="171.10" stroke="#000" stroke-width="1.1" />
<line x1="503.50" y1="171.10" x2="508.30" y2="171.10" stroke="#000" stroke-width="1.1" />
<polygon points="454.30,173.59 458.49,181.00 450.11,181.00" fill="#fff" stroke="#d8262e" stroke-width="1.6"/>
<text x="465.40" y="180.70" font-size="9" font-family="'Liberation Mono', monospace" font-weight="normal" fill="#0a0a0a" stroke="#0a0a0a" stroke-width="0.28" xml:space="preserve"><tspan font-weight="bold" fill="#000">F</tspan>L<tspan font-weight="bold" fill="#000">T</tspan>GIGI<tspan font-weight="bold" fill="#000">I</tspan>TV</text>
<line x1="465.70" y1="182.30" x2="470.50" y2="182.30" stroke="#000" stroke-width="1.1" />
<line x1="476.50" y1="182.30" x2="481.30" y2="182.30" stroke="#000" stroke-width="1.1" />
<line x1="503.50" y1="182.30" x2="508.30" y2="182.30" stroke="#000" stroke-width="1.1" />
<polygon points="454.30,184.79 458.49,192.20 450.11,192.20" fill="#fff" stroke="#7b3fa0" stroke-width="1.6"/>
<text x="465.40" y="191.90" font-size="9" font-family="'Liberation Mono', monospace" font-weight="normal" fill="#0a0a0a" stroke="#0a0a0a" stroke-width="0.28" xml:space="preserve"><tspan font-weight="bold" fill="#000">I</tspan>L<tspan font-weight="bold" fill="#000">T</tspan>GIGI<tspan font-weight="bold" fill="#000">I</tspan>TV</text>
<line x1="465.70" y1="193.50" x2="470.50" y2="193.50" stroke="#000" stroke-width="1.1" />
<line x1="476.50" y1="193.50" x2="481.30" y2="193.50" stroke="#000" stroke-width="1.1" />
<line x1="503.50" y1="193.50" x2="508.30" y2="193.50" stroke="#000" stroke-width="1.1" />
<polygon points="454.30,195.99 458.49,203.40 450.11,203.40" fill="#fff" stroke="#3a4fa8" stroke-width="1.6"/>
<text x="465.40" y="203.10" font-size="9" font-family="'Liberation Mono', monospace" font-weight="normal" fill="#0a0a0a" stroke="#0a0a0a" stroke-width="0.28" xml:space="preserve"><tspan font-weight="bold" fill="#000">H</tspan>L<tspan font-weight="bold" fill="#000">T</tspan>GIGI<tspan font-weight="bold" fill="#000">I</tspan>TV</text>
<line x1="465.70" y1="204.70" x2="470.50" y2="204.70" stroke="#000" stroke-width="1.1" />
<line x1="476.50" y1="204.70" x2="481.30" y2="204.70" stroke="#000" stroke-width="1.1" />
<line x1="503.50" y1="204.70" x2="508.30" y2="204.70" stroke="#000" stroke-width="1.1" />
<rect x="379.10" y="186.00" width="7.40" height="7.40" fill="#111"/>
<text x="391.70" y="192.50" font-size="9" font-family="'Liberation Mono', monospace" font-weight="normal" fill="#0a0a0a" stroke="#0a0a0a" stroke-width="0.28" xml:space="preserve">ELAGIGILTV</text>
<text x="391.70" y="202.70" font-size="9" font-family="'Liberation Mono', monospace" font-weight="normal" fill="#0a0a0a" stroke="#0a0a0a" stroke-width="0.28" xml:space="preserve">(Index)</text>
<line x1="49.00" y1="273.98" x2="49.00" y2="474.00" stroke="#1a1a1a" stroke-width="1.5" />
<line x1="48.30" y1="470.80" x2="245.00" y2="470.80" stroke="#1a1a1a" stroke-width="1.5" />
<line x1="45.30" y1="459.80" x2="49.00" y2="459.80" stroke="#1a1a1a" stroke-width="1.3" />
<text x="45.40" y="464.40" font-size="10" text-anchor="end" font-family="'Liberation Sans', sans-serif" font-weight="normal" fill="#111" letter-spacing="0" stroke="#111" stroke-width="0.4">0</text>
<line x1="45.30" y1="436.66" x2="49.00" y2="436.66" stroke="#1a1a1a" stroke-width="1.3" />
<text x="45.40" y="441.26" font-size="10" text-anchor="end" font-family="'Liberation Sans', sans-serif" font-weight="normal" fill="#111" letter-spacing="0" stroke="#111" stroke-width="0.4">500</text>
<line x1="45.30" y1="413.52" x2="49.00" y2="413.52" stroke="#1a1a1a" stroke-width="1.3" />
<text x="45.40" y="418.12" font-size="10" text-anchor="end" font-family="'Liberation Sans', sans-serif" font-weight="normal" fill="#111" letter-spacing="0" stroke="#111" stroke-width="0.4">1000</text>
<line x1="45.30" y1="390.38" x2="49.00" y2="390.38" stroke="#1a1a1a" stroke-width="1.3" />
<text x="45.40" y="394.98" font-size="10" text-anchor="end" font-family="'Liberation Sans', sans-serif" font-weight="normal" fill="#111" letter-spacing="0" stroke="#111" stroke-width="0.4">1500</text>
<line x1="45.30" y1="367.24" x2="49.00" y2="367.24" stroke="#1a1a1a" stroke-width="1.3" />
<text x="45.40" y="371.84" font-size="10" text-anchor="end" font-family="'Liberation Sans', sans-serif" font-weight="normal" fill="#111" letter-spacing="0" stroke="#111" stroke-width="0.4">2000</text>
<line x1="45.30" y1="344.10" x2="49.00" y2="344.10" stroke="#1a1a1a" stroke-width="1.3" />
<text x="45.40" y="348.70" font-size="10" text-anchor="end" font-family="'Liberation Sans', sans-serif" font-weight="normal" fill="#111" letter-spacing="0" stroke="#111" stroke-width="0.4">2500</text>
<line x1="45.30" y1="320.96" x2="49.00" y2="320.96" stroke="#1a1a1a" stroke-width="1.3" />
<text x="45.40" y="325.56" font-size="10" text-anchor="end" font-family="'Liberation Sans', sans-serif" font-weight="normal" fill="#111" letter-spacing="0" stroke="#111" stroke-width="0.4">3000</text>
<line x1="45.30" y1="297.82" x2="49.00" y2="297.82" stroke="#1a1a1a" stroke-width="1.3" />
<text x="45.40" y="302.42" font-size="10" text-anchor="end" font-family="'Liberation Sans', sans-serif" font-weight="normal" fill="#111" letter-spacing="0" stroke="#111" stroke-width="0.4">3500</text>
<line x1="45.30" y1="274.68" x2="49.00" y2="274.68" stroke="#1a1a1a" stroke-width="1.3" />
<text x="45.40" y="279.28" font-size="10" text-anchor="end" font-family="'Liberation Sans', sans-serif" font-weight="normal" fill="#111" letter-spacing="0" stroke="#111" stroke-width="0.4">4000</text>
<line x1="76.70" y1="470.80" x2="76.70" y2="474.00" stroke="#1a1a1a" stroke-width="1.3" />
<line x1="104.65" y1="470.80" x2="104.65" y2="474.00" stroke="#1a1a1a" stroke-width="1.3" />
<line x1="132.60" y1="470.80" x2="132.60" y2="474.00" stroke="#1a1a1a" stroke-width="1.3" />
<line x1="160.55" y1="470.80" x2="160.55" y2="474.00" stroke="#1a1a1a" stroke-width="1.3" />
<line x1="188.50" y1="470.80" x2="188.50" y2="474.00" stroke="#1a1a1a" stroke-width="1.3" />
<line x1="216.45" y1="470.80" x2="216.45" y2="474.00" stroke="#1a1a1a" stroke-width="1.3" />
<line x1="244.40" y1="470.80" x2="244.40" y2="474.00" stroke="#1a1a1a" stroke-width="1.3" />
<text x="74.00" y="486.80" font-size="11" text-anchor="middle" font-family="'Liberation Sans', sans-serif" font-weight="normal" fill="#111" letter-spacing="0.3" stroke="#111" stroke-width="0.4">-11</text>
<text x="101.95" y="486.80" font-size="11" text-anchor="middle" font-family="'Liberation Sans', sans-serif" font-weight="normal" fill="#111" letter-spacing="0.3" stroke="#111" stroke-width="0.4">-10</text>
<text x="129.90" y="486.80" font-size="11" text-anchor="middle" font-family="'Liberation Sans', sans-serif" font-weight="normal" fill="#111" letter-spacing="0.3" stroke="#111" stroke-width="0.4">-9</text>
<text x="157.85" y="486.80" font-size="11" text-anchor="middle" font-family="'Liberation Sans', sans-serif" font-weight="normal" fill="#111" letter-spacing="0.3" stroke="#111" stroke-width="0.4">-8</text>
<text x="185.80" y="486.80" font-size="11" text-anchor="middle" font-family="'Liberation Sans', sans-serif" font-weight="normal" fill="#111" letter-spacing="0.3" stroke="#111" stroke-width="0.4">-7</text>
<text x="213.75" y="486.80" font-size="11" text-anchor="middle" font-family="'Liberation Sans', sans-serif" font-weight="normal" fill="#111" letter-spacing="0.3" stroke="#111" stroke-width="0.4">-6</text>
<text x="106.70" y="501.70" font-size="11.3" font-family="'Liberation Sans', sans-serif" fill="#111" stroke="#111" stroke-width="0.32">[peptide] log<tspan font-size="6.2" dy="3.0" dx="0.3">10</tspan><tspan dy="-3.0" dx="0.2">M</tspan></text>
<text transform="translate(12.70,366.60) rotate(-90)" font-size="15.5" text-anchor="middle" font-family="'Liberation Sans', sans-serif" fill="#111" stroke="#111" stroke-width="0.4" textLength="100" lengthAdjust="spacingAndGlyphs">MIP1β (pg/ml)</text>
<text x="122.00" y="270.60" font-size="13.2" text-anchor="start" font-family="'Liberation Sans', sans-serif" font-weight="normal" fill="#111" stroke="#111" stroke-width="0.35" textLength="60" lengthAdjust="spacingAndGlyphs">9&amp;11mers</text>
<text x="2.50" y="278.90" font-size="14" text-anchor="start" font-family="'Liberation Sans', sans-serif" font-weight="bold" fill="#111" >C</text>
<polyline points="76.70,451.33 104.65,393.62 132.60,333.92 160.55,315.41 188.50,295.04 216.45,312.63" fill="none" stroke="#111" stroke-width="1.25" stroke-linejoin="round" />
<line x1="132.60" y1="333.92" x2="132.60" y2="326.05" stroke="#111" stroke-width="1.2" />
<line x1="129.30" y1="326.05" x2="135.90" y2="326.05" stroke="#111" stroke-width="1.2" />
<line x1="132.60" y1="333.92" x2="132.60" y2="341.79" stroke="#111" stroke-width="1.2" />
<line x1="129.30" y1="341.79" x2="135.90" y2="341.79" stroke="#111" stroke-width="1.2" />
<line x1="160.55" y1="315.41" x2="160.55" y2="303.84" stroke="#111" stroke-width="1.2" />
<line x1="157.25" y1="303.84" x2="163.85" y2="303.84" stroke="#111" stroke-width="1.2" />
<line x1="160.55" y1="315.41" x2="160.55" y2="326.98" stroke="#111" stroke-width="1.2" />
<line x1="157.25" y1="326.98" x2="163.85" y2="326.98" stroke="#111" stroke-width="1.2" />
<rect x="72.50" y="447.13" width="8.40" height="8.40" fill="#111"/>
<rect x="100.45" y="389.42" width="8.40" height="8.40" fill="#111"/>
<rect x="128.40" y="329.72" width="8.40" height="8.40" fill="#111"/>
<rect x="156.35" y="311.21" width="8.40" height="8.40" fill="#111"/>
<rect x="184.30" y="290.84" width="8.40" height="8.40" fill="#111"/>
<rect x="212.25" y="308.43" width="8.40" height="8.40" fill="#111"/>
<polyline points="76.70,459.80 104.65,457.49 132.60,432.96 160.55,388.53 188.50,317.72 216.45,312.17" fill="none" stroke="#c8303a" stroke-width="1.25" stroke-linejoin="round" />
<line x1="160.55" y1="388.53" x2="160.55" y2="381.59" stroke="#c8303a" stroke-width="1.2" />
<line x1="157.25" y1="381.59" x2="163.85" y2="381.59" stroke="#c8303a" stroke-width="1.2" />
<line x1="160.55" y1="388.53" x2="160.55" y2="395.47" stroke="#c8303a" stroke-width="1.2" />
<line x1="157.25" y1="395.47" x2="163.85" y2="395.47" stroke="#c8303a" stroke-width="1.2" />
<circle cx="76.70" cy="459.80" r="3.99" fill="#fff" stroke="#c8303a" stroke-width="1.15"/>
<circle cx="104.65" cy="457.49" r="3.99" fill="#fff" stroke="#c8303a" stroke-width="1.15"/>
<circle cx="132.60" cy="432.96" r="3.99" fill="#fff" stroke="#c8303a" stroke-width="1.15"/>
<circle cx="160.55" cy="388.53" r="3.99" fill="#fff" stroke="#c8303a" stroke-width="1.15"/>
<circle cx="188.50" cy="317.72" r="3.99" fill="#fff" stroke="#c8303a" stroke-width="1.15"/>
<circle cx="216.45" cy="312.17" r="3.99" fill="#fff" stroke="#c8303a" stroke-width="1.15"/>
<polyline points="76.70,460.73 104.65,462.58 132.60,461.65 160.55,457.95 188.50,427.40 216.45,345.49" fill="none" stroke="#3a4a98" stroke-width="1.25" stroke-linejoin="round" />
<line x1="188.50" y1="427.40" x2="188.50" y2="413.52" stroke="#3a4a98" stroke-width="1.2" />
<line x1="185.20" y1="413.52" x2="191.80" y2="413.52" stroke="#3a4a98" stroke-width="1.2" />
<line x1="216.45" y1="345.49" x2="216.45" y2="337.62" stroke="#3a4a98" stroke-width="1.2" />
<line x1="213.15" y1="337.62" x2="219.75" y2="337.62" stroke="#3a4a98" stroke-width="1.2" />
<line x1="216.45" y1="345.49" x2="216.45" y2="350.12" stroke="#3a4a98" stroke-width="1.2" />
<line x1="213.15" y1="350.12" x2="219.75" y2="350.12" stroke="#3a4a98" stroke-width="1.2" />
<circle cx="76.70" cy="460.73" r="3.99" fill="#fff" stroke="#3a4a98" stroke-width="1.15"/>
<circle cx="104.65" cy="462.58" r="3.99" fill="#fff" stroke="#3a4a98" stroke-width="1.15"/>
<circle cx="132.60" cy="461.65" r="3.99" fill="#fff" stroke="#3a4a98" stroke-width="1.15"/>
<circle cx="160.55" cy="457.95" r="3.99" fill="#fff" stroke="#3a4a98" stroke-width="1.15"/>
<circle cx="188.50" cy="427.40" r="3.99" fill="#fff" stroke="#3a4a98" stroke-width="1.15"/>
<circle cx="216.45" cy="345.49" r="3.99" fill="#fff" stroke="#3a4a98" stroke-width="1.15"/>
<polyline points="76.70,459.80 104.65,460.26 132.60,460.73 160.55,459.80 188.50,457.49 216.45,351.97" fill="none" stroke="#9ad0e6" stroke-width="1.25" stroke-linejoin="round" />
<circle cx="76.70" cy="459.80" r="3.99" fill="#fff" stroke="#9ad0e6" stroke-width="1.15"/>
<circle cx="104.65" cy="460.26" r="3.99" fill="#fff" stroke="#9ad0e6" stroke-width="1.15"/>
<circle cx="132.60" cy="460.73" r="3.99" fill="#fff" stroke="#9ad0e6" stroke-width="1.15"/>
<circle cx="160.55" cy="459.80" r="3.99" fill="#fff" stroke="#9ad0e6" stroke-width="1.15"/>
<circle cx="188.50" cy="457.49" r="3.99" fill="#fff" stroke="#9ad0e6" stroke-width="1.15"/>
<circle cx="216.45" cy="351.97" r="3.99" fill="#fff" stroke="#9ad0e6" stroke-width="1.15"/>
<polyline points="76.70,458.41 104.65,457.95 132.60,457.02 160.55,458.41 188.50,440.36 216.45,362.61" fill="none" stroke="#8fc060" stroke-width="1.25" stroke-linejoin="round" />
<circle cx="76.70" cy="458.41" r="3.99" fill="#fff" stroke="#8fc060" stroke-width="1.15"/>
<circle cx="104.65" cy="457.95" r="3.99" fill="#fff" stroke="#8fc060" stroke-width="1.15"/>
<circle cx="132.60" cy="457.02" r="3.99" fill="#fff" stroke="#8fc060" stroke-width="1.15"/>
<circle cx="160.55" cy="458.41" r="3.99" fill="#fff" stroke="#8fc060" stroke-width="1.15"/>
<circle cx="188.50" cy="440.36" r="3.99" fill="#fff" stroke="#8fc060" stroke-width="1.15"/>
<circle cx="216.45" cy="362.61" r="3.99" fill="#fff" stroke="#8fc060" stroke-width="1.15"/>
<rect x="54.20" y="276.80" width="7.40" height="7.40" fill="#111"/>
<text x="69.50" y="283.20" font-size="7.9" font-family="'Liberation Mono', monospace" font-weight="normal" fill="#0a0a0a" stroke="#0a0a0a" stroke-width="0.28" xml:space="preserve">ELAGIGILTV(Index)</text>
<circle cx="57.90" cy="291.50" r="4.08" fill="#fff" stroke="#c8303a" stroke-width="1.15"/>
<text x="69.50" y="294.20" font-size="7.9" font-family="'Liberation Mono', monospace" font-weight="normal" fill="#0a0a0a" stroke="#0a0a0a" stroke-width="0.28" xml:space="preserve">FWLLPAWAL</text>
<circle cx="57.90" cy="302.50" r="4.08" fill="#fff" stroke="#3a4a98" stroke-width="1.15"/>
<text x="69.50" y="305.20" font-size="7.9" font-family="'Liberation Mono', monospace" font-weight="normal" fill="#0a0a0a" stroke="#0a0a0a" stroke-width="0.28" xml:space="preserve">FWLLGAWAL</text>
<circle cx="57.90" cy="313.50" r="4.08" fill="#fff" stroke="#9ad0e6" stroke-width="1.15"/>
<text x="69.50" y="316.20" font-size="7.9" font-family="'Liberation Mono', monospace" font-weight="normal" fill="#0a0a0a" stroke="#0a0a0a" stroke-width="0.28" xml:space="preserve">FFAGGIGIRTI</text>
<circle cx="57.90" cy="324.50" r="4.08" fill="#fff" stroke="#8fc060" stroke-width="1.15"/>
<text x="69.50" y="327.20" font-size="7.9" font-family="'Liberation Mono', monospace" font-weight="normal" fill="#0a0a0a" stroke="#0a0a0a" stroke-width="0.28" xml:space="preserve">FLAGGIGIRTL</text>
<line x1="48.40" y1="538.75" x2="48.40" y2="737.20" stroke="#1a1a1a" stroke-width="1.5" />
<line x1="47.70" y1="734.00" x2="243.60" y2="734.00" stroke="#1a1a1a" stroke-width="1.5" />
<line x1="44.70" y1="719.30" x2="48.40" y2="719.30" stroke="#1a1a1a" stroke-width="1.3" />
<text x="43.80" y="722.80" font-size="10" text-anchor="end" font-family="'Liberation Sans', sans-serif" font-weight="normal" fill="#111" letter-spacing="0" stroke="#111" stroke-width="0.4">0</text>
<line x1="44.70" y1="659.35" x2="48.40" y2="659.35" stroke="#1a1a1a" stroke-width="1.3" />
<text x="43.80" y="662.85" font-size="10" text-anchor="end" font-family="'Liberation Sans', sans-serif" font-weight="normal" fill="#111" letter-spacing="0" stroke="#111" stroke-width="0.4">1000</text>
<line x1="44.70" y1="599.40" x2="48.40" y2="599.40" stroke="#1a1a1a" stroke-width="1.3" />
<text x="43.80" y="602.90" font-size="10" text-anchor="end" font-family="'Liberation Sans', sans-serif" font-weight="normal" fill="#111" letter-spacing="0" stroke="#111" stroke-width="0.4">2000</text>
<line x1="44.70" y1="539.45" x2="48.40" y2="539.45" stroke="#1a1a1a" stroke-width="1.3" />
<text x="43.80" y="542.95" font-size="10" text-anchor="end" font-family="'Liberation Sans', sans-serif" font-weight="normal" fill="#111" letter-spacing="0" stroke="#111" stroke-width="0.4">3000</text>
<line x1="70.00" y1="734.00" x2="70.00" y2="737.20" stroke="#1a1a1a" stroke-width="1.3" />
<line x1="91.60" y1="734.00" x2="91.60" y2="737.20" stroke="#1a1a1a" stroke-width="1.3" />
<line x1="113.20" y1="734.00" x2="113.20" y2="737.20" stroke="#1a1a1a" stroke-width="1.3" />
<line x1="134.80" y1="734.00" x2="134.80" y2="737.20" stroke="#1a1a1a" stroke-width="1.3" />
<line x1="156.40" y1="734.00" x2="156.40" y2="737.20" stroke="#1a1a1a" stroke-width="1.3" />
<line x1="178.00" y1="734.00" x2="178.00" y2="737.20" stroke="#1a1a1a" stroke-width="1.3" />
<line x1="199.60" y1="734.00" x2="199.60" y2="737.20" stroke="#1a1a1a" stroke-width="1.3" />
<line x1="221.20" y1="734.00" x2="221.20" y2="737.20" stroke="#1a1a1a" stroke-width="1.3" />
<line x1="243.00" y1="734.00" x2="243.00" y2="737.20" stroke="#1a1a1a" stroke-width="1.3" />
<text x="68.60" y="749.40" font-size="11" text-anchor="middle" font-family="'Liberation Sans', sans-serif" font-weight="normal" fill="#111" letter-spacing="0.3" stroke="#111" stroke-width="0.4">-11</text>
<text x="90.20" y="749.40" font-size="11" text-anchor="middle" font-family="'Liberation Sans', sans-serif" font-weight="normal" fill="#111" letter-spacing="0.3" stroke="#111" stroke-width="0.4">-10</text>
<text x="111.80" y="749.40" font-size="11" text-anchor="middle" font-family="'Liberation Sans', sans-serif" font-weight="normal" fill="#111" letter-spacing="0.3" stroke="#111" stroke-width="0.4">-9</text>
<text x="133.40" y="749.40" font-size="11" text-anchor="middle" font-family="'Liberation Sans', sans-serif" font-weight="normal" fill="#111" letter-spacing="0.3" stroke="#111" stroke-width="0.4">-8</text>
<text x="155.00" y="749.40" font-size="11" text-anchor="middle" font-family="'Liberation Sans', sans-serif" font-weight="normal" fill="#111" letter-spacing="0.3" stroke="#111" stroke-width="0.4">-7</text>
<text x="176.60" y="749.40" font-size="11" text-anchor="middle" font-family="'Liberation Sans', sans-serif" font-weight="normal" fill="#111" letter-spacing="0.3" stroke="#111" stroke-width="0.4">-6</text>
<text x="198.20" y="749.40" font-size="11" text-anchor="middle" font-family="'Liberation Sans', sans-serif" font-weight="normal" fill="#111" letter-spacing="0.3" stroke="#111" stroke-width="0.4">-5</text>
<text x="219.80" y="749.40" font-size="11" text-anchor="middle" font-family="'Liberation Sans', sans-serif" font-weight="normal" fill="#111" letter-spacing="0.3" stroke="#111" stroke-width="0.4">-4</text>
<text x="107.30" y="762.60" font-size="11.3" font-family="'Liberation Sans', sans-serif" fill="#111" stroke="#111" stroke-width="0.32">[peptide] log<tspan font-size="6.2" dy="3.0" dx="0.3">10</tspan><tspan dy="-3.0" dx="0.2">M</tspan></text>
<text transform="translate(12.20,626.70) rotate(-90)" font-size="15.5" text-anchor="middle" font-family="'Liberation Sans', sans-serif" fill="#111" stroke="#111" stroke-width="0.4" textLength="98.3" lengthAdjust="spacingAndGlyphs">MIP1β (pg/ml)</text>
<text x="128.65" y="532.90" font-size="13.2" text-anchor="start" font-family="'Liberation Sans', sans-serif" font-weight="normal" fill="#111" stroke="#111" stroke-width="0.35" textLength="37.2" lengthAdjust="spacingAndGlyphs">8mers</text>
<text x="2.70" y="537.90" font-size="14" text-anchor="start" font-family="'Liberation Sans', sans-serif" font-weight="bold" fill="#111" >E</text>
<polyline points="48.40,719.30 70.00,713.07 91.60,710.31 113.20,653.12 134.80,577.22 156.40,558.45 178.00,570.20 199.60,573.92 221.20,570.20" fill="none" stroke="#111" stroke-width="1.25" stroke-linejoin="round" />
<line x1="134.80" y1="577.22" x2="134.80" y2="569.42" stroke="#111" stroke-width="1.2" />
<line x1="131.60" y1="569.42" x2="138.00" y2="569.42" stroke="#111" stroke-width="1.2" />
<line x1="156.40" y1="558.45" x2="156.40" y2="550.66" stroke="#111" stroke-width="1.2" />
<line x1="153.20" y1="550.66" x2="159.60" y2="550.66" stroke="#111" stroke-width="1.2" />
<line x1="178.00" y1="570.20" x2="178.00" y2="565.41" stroke="#111" stroke-width="1.2" />
<line x1="174.80" y1="565.41" x2="181.20" y2="565.41" stroke="#111" stroke-width="1.2" />
<line x1="178.00" y1="570.20" x2="178.00" y2="575.00" stroke="#111" stroke-width="1.2" />
<line x1="174.80" y1="575.00" x2="181.20" y2="575.00" stroke="#111" stroke-width="1.2" />
<line x1="199.60" y1="573.92" x2="199.60" y2="570.32" stroke="#111" stroke-width="1.2" />
<line x1="196.40" y1="570.32" x2="202.80" y2="570.32" stroke="#111" stroke-width="1.2" />
<line x1="221.20" y1="570.20" x2="221.20" y2="566.61" stroke="#111" stroke-width="1.2" />
<line x1="218.00" y1="566.61" x2="224.40" y2="566.61" stroke="#111" stroke-width="1.2" />
<line x1="221.20" y1="570.20" x2="221.20" y2="573.80" stroke="#111" stroke-width="1.2" />
<line x1="218.00" y1="573.80" x2="224.40" y2="573.80" stroke="#111" stroke-width="1.2" />
<rect x="44.60" y="715.50" width="7.60" height="7.60" fill="#111"/>
<rect x="66.20" y="709.27" width="7.60" height="7.60" fill="#111"/>
<rect x="87.80" y="706.51" width="7.60" height="7.60" fill="#111"/>
<rect x="109.40" y="649.32" width="7.60" height="7.60" fill="#111"/>
<rect x="131.00" y="573.42" width="7.60" height="7.60" fill="#111"/>
<rect x="152.60" y="554.65" width="7.60" height="7.60" fill="#111"/>
<rect x="174.20" y="566.40" width="7.60" height="7.60" fill="#111"/>
<rect x="195.80" y="570.12" width="7.60" height="7.60" fill="#111"/>
<rect x="217.40" y="566.40" width="7.60" height="7.60" fill="#111"/>
<polyline points="48.40,719.30 70.00,713.07 91.60,702.33 113.20,642.38 134.80,617.15 156.40,610.61 178.00,591.43 199.60,571.40 221.20,558.15" fill="none" stroke="#dde335" stroke-width="1.25" stroke-linejoin="round" />
<line x1="91.60" y1="702.33" x2="91.60" y2="696.34" stroke="#dde335" stroke-width="1.2" />
<line x1="88.40" y1="696.34" x2="94.80" y2="696.34" stroke="#dde335" stroke-width="1.2" />
<line x1="113.20" y1="642.38" x2="113.20" y2="631.59" stroke="#dde335" stroke-width="1.2" />
<line x1="110.00" y1="631.59" x2="116.40" y2="631.59" stroke="#dde335" stroke-width="1.2" />
<line x1="134.80" y1="617.15" x2="134.80" y2="608.75" stroke="#dde335" stroke-width="1.2" />
<line x1="131.60" y1="608.75" x2="138.00" y2="608.75" stroke="#dde335" stroke-width="1.2" />
<line x1="134.80" y1="617.15" x2="134.80" y2="625.54" stroke="#dde335" stroke-width="1.2" />
<line x1="131.60" y1="625.54" x2="138.00" y2="625.54" stroke="#dde335" stroke-width="1.2" />
<line x1="156.40" y1="610.61" x2="156.40" y2="590.23" stroke="#dde335" stroke-width="1.2" />
<line x1="153.20" y1="590.23" x2="159.60" y2="590.23" stroke="#dde335" stroke-width="1.2" />
<line x1="156.40" y1="610.61" x2="156.40" y2="630.99" stroke="#dde335" stroke-width="1.2" />
<line x1="153.20" y1="630.99" x2="159.60" y2="630.99" stroke="#dde335" stroke-width="1.2" />
<line x1="178.00" y1="591.43" x2="178.00" y2="554.26" stroke="#dde335" stroke-width="1.2" />
<line x1="174.80" y1="554.26" x2="181.20" y2="554.26" stroke="#dde335" stroke-width="1.2" />
<line x1="178.00" y1="591.43" x2="178.00" y2="627.40" stroke="#dde335" stroke-width="1.2" />
<line x1="174.80" y1="627.40" x2="181.20" y2="627.40" stroke="#dde335" stroke-width="1.2" />
<line x1="199.60" y1="571.40" x2="199.60" y2="547.42" stroke="#dde335" stroke-width="1.2" />
<line x1="196.40" y1="547.42" x2="202.80" y2="547.42" stroke="#dde335" stroke-width="1.2" />
<line x1="199.60" y1="571.40" x2="199.60" y2="595.98" stroke="#dde335" stroke-width="1.2" />
<line x1="196.40" y1="595.98" x2="202.80" y2="595.98" stroke="#dde335" stroke-width="1.2" />
<line x1="221.20" y1="558.15" x2="221.20" y2="546.16" stroke="#dde335" stroke-width="1.2" />
<line x1="218.00" y1="546.16" x2="224.40" y2="546.16" stroke="#dde335" stroke-width="1.2" />
<line x1="221.20" y1="558.15" x2="221.20" y2="571.34" stroke="#dde335" stroke-width="1.2" />
<line x1="218.00" y1="571.34" x2="224.40" y2="571.34" stroke="#dde335" stroke-width="1.2" />
<circle cx="48.40" cy="719.30" r="3.80" fill="#dde335"/>
<circle cx="70.00" cy="713.07" r="3.80" fill="#dde335"/>
<circle cx="91.60" cy="702.33" r="3.80" fill="#dde335"/>
<circle cx="113.20" cy="642.38" r="3.80" fill="#dde335"/>
<circle cx="134.80" cy="617.15" r="3.80" fill="#dde335"/>
<circle cx="156.40" cy="610.61" r="3.80" fill="#dde335"/>
<circle cx="178.00" cy="591.43" r="3.80" fill="#dde335"/>
<circle cx="199.60" cy="571.40" r="3.80" fill="#dde335"/>
<circle cx="221.20" cy="558.15" r="3.80" fill="#dde335"/>
<polyline points="48.40,719.30 70.00,716.60 91.60,712.29 113.20,654.85 134.80,598.92 156.40,583.21 178.00,586.45 199.60,585.67 221.20,583.93" fill="none" stroke="#a274b0" stroke-width="1.25" stroke-linejoin="round" />
<line x1="134.80" y1="598.92" x2="134.80" y2="591.13" stroke="#a274b0" stroke-width="1.2" />
<line x1="131.60" y1="591.13" x2="138.00" y2="591.13" stroke="#a274b0" stroke-width="1.2" />
<line x1="156.40" y1="583.21" x2="156.40" y2="568.83" stroke="#a274b0" stroke-width="1.2" />
<line x1="153.20" y1="568.83" x2="159.60" y2="568.83" stroke="#a274b0" stroke-width="1.2" />
<polygon points="48.40,714.35 53.11,722.60 43.69,722.60" fill="#a274b0"/>
<polygon points="70.00,711.65 74.71,719.90 65.29,719.90" fill="#a274b0"/>
<polygon points="91.60,707.34 96.31,715.58 86.89,715.58" fill="#a274b0"/>
<polygon points="113.20,649.91 117.91,658.15 108.49,658.15" fill="#a274b0"/>
<polygon points="134.80,593.97 139.51,602.22 130.09,602.22" fill="#a274b0"/>
<polygon points="156.40,578.27 161.11,586.51 151.69,586.51" fill="#a274b0"/>
<polygon points="178.00,581.50 182.71,589.75 173.29,589.75" fill="#a274b0"/>
<polygon points="199.60,580.72 204.31,588.97 194.89,588.97" fill="#a274b0"/>
<polygon points="221.20,578.99 225.91,587.23 216.49,587.23" fill="#a274b0"/>
<line x1="127.50" y1="706.00" x2="141.30" y2="706.00" stroke="#111" stroke-width="1.4" />
<text x="148.30" y="708.80" font-size="8.9" font-family="'Liberation Mono', monospace" font-weight="normal" fill="#0a0a0a" stroke="#0a0a0a" stroke-width="0.28" xml:space="preserve">ELAGIGILTV (Index)</text>
<line x1="127.50" y1="716.60" x2="141.30" y2="716.60" stroke="#dde335" stroke-width="1.4" />
<text x="148.30" y="719.40" font-size="8.9" font-family="'Liberation Mono', monospace" font-weight="normal" fill="#0a0a0a" stroke="#0a0a0a" stroke-width="0.28" xml:space="preserve">WLLPAWGV</text>
<line x1="127.50" y1="727.20" x2="141.30" y2="727.20" stroke="#a274b0" stroke-width="1.4" />
<text x="148.30" y="730.00" font-size="8.9" font-family="'Liberation Mono', monospace" font-weight="normal" fill="#0a0a0a" stroke="#0a0a0a" stroke-width="0.28" xml:space="preserve">WLLPTWGV</text>
<text x="271.30" y="279.10" font-size="14" text-anchor="start" font-family="'Liberation Sans', sans-serif" font-weight="bold" fill="#111" >D</text>
<text x="386.90" y="271.50" font-size="13.2" text-anchor="start" font-family="'Liberation Sans', sans-serif" font-weight="normal" fill="#111" stroke="#111" stroke-width="0.35" textLength="60.5" lengthAdjust="spacingAndGlyphs">9&amp;11mers</text>
<line x1="318.60" y1="333.10" x2="508.80" y2="333.10" stroke="#7d7896" stroke-width="1.1" />
<path d="M318.60,333.10 C318.60,331.03 318.37,321.80 318.60,320.70 C318.83,319.60 319.57,325.02 320.00,326.50 C320.43,327.98 320.62,329.42 321.20,329.60 C321.78,329.78 322.83,328.22 323.50,327.60 C324.17,326.98 324.37,326.57 325.20,325.90 C326.03,325.23 327.53,324.37 328.50,323.60 C329.47,322.83 330.17,322.15 331.00,321.30 C331.83,320.45 332.73,319.57 333.50,318.50 C334.27,317.43 334.85,316.15 335.60,314.90 C336.35,313.65 337.23,312.43 338.00,311.00 C338.77,309.57 339.45,307.97 340.20,306.30 C340.95,304.63 341.82,302.83 342.50,301.00 C343.18,299.17 343.78,297.05 344.30,295.30 C344.82,293.55 345.22,291.85 345.60,290.50 C345.98,289.15 346.23,288.20 346.60,287.20 C346.97,286.20 347.42,285.17 347.80,284.50 C348.18,283.83 348.48,283.18 348.90,283.20 C349.32,283.22 349.82,283.93 350.30,284.60 C350.78,285.27 351.17,286.18 351.80,287.20 C352.43,288.22 353.33,289.15 354.10,290.70 C354.87,292.25 355.63,294.00 356.40,296.50 C357.17,299.00 357.93,302.43 358.70,305.70 C359.47,308.97 360.23,313.03 361.00,316.10 C361.77,319.17 362.53,321.80 363.30,324.10 C364.07,326.40 364.63,328.52 365.60,329.90 C366.57,331.28 367.75,331.87 369.10,332.40 C370.45,332.93 372.93,332.98 373.70,333.10 Z" fill="#523a90"/>
<line x1="318.60" y1="359.90" x2="508.80" y2="359.90" stroke="#93b58a" stroke-width="1.1" />
<path d="M362.00,359.90 C363.00,359.85 366.22,359.77 368.00,359.60 C369.78,359.43 371.20,359.25 372.70,358.90 C374.20,358.55 375.43,358.17 377.00,357.50 C378.57,356.83 380.73,355.95 382.10,354.90 C383.47,353.85 384.30,352.65 385.20,351.20 C386.10,349.75 386.83,347.98 387.50,346.20 C388.17,344.42 388.72,342.45 389.20,340.50 C389.68,338.55 389.98,336.63 390.40,334.50 C390.82,332.37 391.23,329.70 391.70,327.70 C392.17,325.70 392.72,324.03 393.20,322.50 C393.68,320.97 394.05,320.12 394.60,318.50 C395.15,316.88 395.92,314.25 396.50,312.80 C397.08,311.35 397.55,309.63 398.10,309.80 C398.65,309.97 399.23,311.60 399.80,313.80 C400.37,316.00 400.98,320.12 401.50,323.00 C402.02,325.88 402.42,328.77 402.90,331.10 C403.38,333.43 403.85,334.68 404.40,337.00 C404.95,339.32 405.60,342.42 406.20,345.00 C406.80,347.58 407.37,350.42 408.00,352.50 C408.63,354.58 409.17,356.33 410.00,357.50 C410.83,358.67 412.00,359.10 413.00,359.50 C414.00,359.90 415.50,359.83 416.00,359.90 Z" fill="#5eaa52"/>
<line x1="318.60" y1="387.20" x2="508.80" y2="387.20" stroke="#9ebfc4" stroke-width="1.1" />
<path d="M366.00,387.20 C366.83,387.15 369.22,387.03 371.00,386.90 C372.78,386.77 375.03,386.63 376.70,386.40 C378.37,386.17 379.65,385.93 381.00,385.50 C382.35,385.07 383.55,384.52 384.80,383.80 C386.05,383.08 387.38,382.08 388.50,381.20 C389.62,380.32 390.67,379.53 391.50,378.50 C392.33,377.47 392.93,376.35 393.50,375.00 C394.07,373.65 394.33,372.73 394.90,370.40 C395.47,368.07 396.23,364.37 396.90,361.00 C397.57,357.63 398.32,353.20 398.90,350.20 C399.48,347.20 399.95,344.83 400.40,343.00 C400.85,341.17 401.18,340.20 401.60,339.20 C402.02,338.20 402.45,337.52 402.90,337.00 C403.35,336.48 403.82,335.93 404.30,336.10 C404.78,336.27 405.23,336.55 405.80,338.00 C406.37,339.45 406.93,342.32 407.70,344.80 C408.47,347.28 409.50,349.98 410.40,352.90 C411.30,355.82 412.25,359.20 413.10,362.30 C413.95,365.40 414.60,368.58 415.50,371.50 C416.40,374.42 417.58,377.80 418.50,379.80 C419.42,381.80 420.12,382.55 421.00,383.50 C421.88,384.45 422.43,384.92 423.80,385.50 C425.17,386.08 427.50,386.72 429.20,387.00 C430.90,387.28 433.20,387.17 434.00,387.20 Z" fill="#7cc0c6"/>
<line x1="318.60" y1="413.60" x2="508.80" y2="413.60" stroke="#6d74a0" stroke-width="1.1" />
<path d="M376.00,413.60 C376.88,413.52 379.63,413.37 381.30,413.10 C382.97,412.83 384.55,412.55 386.00,412.00 C387.45,411.45 388.75,410.65 390.00,409.80 C391.25,408.95 392.42,408.23 393.50,406.90 C394.58,405.57 395.62,403.58 396.50,401.80 C397.38,400.02 398.17,398.30 398.80,396.20 C399.43,394.10 399.80,391.40 400.30,389.20 C400.80,387.00 401.35,385.02 401.80,383.00 C402.25,380.98 402.55,379.22 403.00,377.10 C403.45,374.98 404.03,372.10 404.50,370.30 C404.97,368.50 405.35,367.30 405.80,366.30 C406.25,365.30 406.67,364.75 407.20,364.30 C407.73,363.85 408.40,363.62 409.00,363.60 C409.60,363.58 410.12,363.52 410.80,364.20 C411.48,364.88 412.42,366.28 413.10,367.70 C413.78,369.12 414.35,370.90 414.90,372.70 C415.45,374.50 415.85,376.40 416.40,378.50 C416.95,380.60 417.62,383.05 418.20,385.30 C418.78,387.55 419.35,389.85 419.90,392.00 C420.45,394.15 420.98,396.28 421.50,398.20 C422.02,400.12 422.48,402.00 423.00,403.50 C423.52,405.00 423.93,406.03 424.60,407.20 C425.27,408.37 426.10,409.65 427.00,410.50 C427.90,411.35 428.83,411.85 430.00,412.30 C431.17,412.75 432.67,412.98 434.00,413.20 C435.33,413.42 437.33,413.53 438.00,413.60 Z" fill="#2e3a8c"/>
<line x1="318.60" y1="440.80" x2="508.80" y2="440.80" stroke="#dba0a6" stroke-width="1.1" />
<path d="M408.00,440.80 C408.93,440.75 411.93,440.67 413.60,440.50 C415.27,440.33 416.68,440.02 418.00,439.80 C419.32,439.58 420.25,439.70 421.50,439.20 C422.75,438.70 424.22,437.75 425.50,436.80 C426.78,435.85 428.03,434.72 429.20,433.50 C430.37,432.28 431.60,431.17 432.50,429.50 C433.40,427.83 433.98,425.67 434.60,423.50 C435.22,421.33 435.72,418.75 436.20,416.50 C436.68,414.25 437.03,412.17 437.50,410.00 C437.97,407.83 438.53,405.42 439.00,403.50 C439.47,401.58 439.83,400.05 440.30,398.50 C440.77,396.95 441.22,395.38 441.80,394.20 C442.38,393.02 443.17,391.63 443.80,391.40 C444.43,391.17 444.95,391.62 445.60,392.80 C446.25,393.98 447.07,396.72 447.70,398.50 C448.33,400.28 448.88,401.97 449.40,403.50 C449.92,405.03 450.32,406.03 450.80,407.70 C451.28,409.37 451.80,411.45 452.30,413.50 C452.80,415.55 453.28,418.08 453.80,420.00 C454.32,421.92 454.88,423.55 455.40,425.00 C455.92,426.45 456.38,427.37 456.90,428.70 C457.42,430.03 457.90,431.58 458.50,433.00 C459.10,434.42 459.75,436.10 460.50,437.20 C461.25,438.30 462.08,439.05 463.00,439.60 C463.92,440.15 464.83,440.30 466.00,440.50 C467.17,440.70 469.33,440.75 470.00,440.80 Z" fill="#c9262b"/>
<line x1="318.60" y1="467.40" x2="508.80" y2="467.40" stroke="#555" stroke-width="1.1" />
<path d="M425.00,467.40 C425.70,467.38 427.70,467.37 429.20,467.30 C430.70,467.23 432.45,467.17 434.00,467.00 C435.55,466.83 437.08,466.67 438.50,466.30 C439.92,465.93 441.22,465.47 442.50,464.80 C443.78,464.13 445.03,463.33 446.20,462.30 C447.37,461.27 448.48,460.02 449.50,458.60 C450.52,457.18 451.55,455.32 452.30,453.80 C453.05,452.28 453.48,451.03 454.00,449.50 C454.52,447.97 454.97,446.60 455.40,444.60 C455.83,442.60 456.22,439.80 456.60,437.50 C456.98,435.20 457.37,432.80 457.70,430.80 C458.03,428.80 458.32,427.13 458.60,425.50 C458.88,423.87 459.12,422.28 459.40,421.00 C459.68,419.72 459.95,418.50 460.30,417.80 C460.65,417.10 460.80,416.97 461.50,416.80 C462.20,416.63 463.80,416.53 464.50,416.80 C465.20,417.07 465.30,417.35 465.70,418.40 C466.10,419.45 466.55,421.42 466.90,423.10 C467.25,424.78 467.53,426.72 467.80,428.50 C468.07,430.28 468.20,431.63 468.50,433.80 C468.80,435.97 469.22,438.93 469.60,441.50 C469.98,444.07 470.37,446.87 470.80,449.20 C471.23,451.53 471.70,453.70 472.20,455.50 C472.70,457.30 473.13,458.63 473.80,460.00 C474.47,461.37 475.30,462.70 476.20,463.70 C477.10,464.70 478.23,465.45 479.20,466.00 C480.17,466.55 480.87,466.77 482.00,467.00 C483.13,467.23 485.33,467.33 486.00,467.40 Z" fill="#000"/>
<rect x="318.60" y="280.50" width="190.20" height="190.50" fill="none" stroke="#2a2a2a" stroke-width="1.4"/>
<text x="444.50" y="354.00" font-size="9" font-family="'Liberation Mono', monospace" font-weight="normal" fill="#151515" stroke="#151515" stroke-width="0.08" xml:space="preserve">FLAGGIGIRTL</text>
<text x="444.50" y="382.30" font-size="9" font-family="'Liberation Mono', monospace" font-weight="normal" fill="#151515" stroke="#151515" stroke-width="0.08" xml:space="preserve">FFAGGIGIRTI</text>
<text x="322.40" y="409.20" font-size="8.9" font-family="'Liberation Mono', monospace" font-weight="normal" fill="#151515" stroke="#151515" stroke-width="0.08" xml:space="preserve">FWLLGAWAL</text>
<text x="322.40" y="435.90" font-size="8.9" font-family="'Liberation Mono', monospace" font-weight="normal" fill="#151515" stroke="#151515" stroke-width="0.08" xml:space="preserve">FWLLPAWAL</text>
<text x="321.60" y="462.30" font-size="8.8" font-family="'Liberation Mono', monospace" font-weight="normal" fill="#151515" stroke="#151515" stroke-width="0.08" xml:space="preserve">ELAGIGILTV (Index)</text>
<text transform="translate(300.9,373.5) rotate(-90)" font-size="14" text-anchor="middle" font-family="'Liberation Sans', sans-serif" fill="#111" stroke="#111" stroke-width="0.35" textLength="76" lengthAdjust="spacingAndGlyphs">Event Count</text>
<text x="373.70" y="502.40" font-size="11.8" text-anchor="start" font-family="'Liberation Sans', sans-serif" font-weight="normal" fill="#111" stroke="#111" stroke-width="0.25" textLength="83.2" lengthAdjust="spacingAndGlyphs">Tetramer PE MFI</text>
<text x="271.00" y="538.00" font-size="14" text-anchor="start" font-family="'Liberation Sans', sans-serif" font-weight="bold" fill="#111" >F</text>
<text x="395.40" y="533.20" font-size="13.2" text-anchor="start" font-family="'Liberation Sans', sans-serif" font-weight="normal" fill="#111" stroke="#111" stroke-width="0.35" textLength="36.9" lengthAdjust="spacingAndGlyphs">8mers</text>
<line x1="318.90" y1="616.10" x2="509.90" y2="616.10" stroke="#6e6a98" stroke-width="1.1" />
<path d="M318.90,616.10 C318.90,614.30 318.65,606.40 318.90,605.30 C319.15,604.20 319.87,608.42 320.40,609.50 C320.93,610.58 321.47,611.78 322.10,611.80 C322.73,611.82 323.42,610.35 324.20,609.60 C324.98,608.85 325.70,607.90 326.80,607.30 C327.90,606.70 329.68,607.35 330.80,606.00 C331.92,604.65 332.60,601.68 333.50,599.20 C334.40,596.72 335.30,593.33 336.20,591.10 C337.10,588.87 338.00,588.03 338.90,585.80 C339.80,583.57 340.95,580.25 341.60,577.70 C342.25,575.15 342.47,572.75 342.80,570.50 C343.13,568.25 343.13,566.82 343.60,564.20 C344.07,561.58 344.82,556.93 345.60,554.80 C346.38,552.67 347.28,552.18 348.30,551.40 C349.32,550.62 350.68,549.53 351.70,550.10 C352.72,550.67 353.62,552.00 354.40,554.80 C355.18,557.60 355.73,562.87 356.40,566.90 C357.07,570.93 357.73,574.97 358.40,579.00 C359.07,583.03 359.62,587.50 360.40,591.10 C361.18,594.70 361.98,597.57 363.10,600.60 C364.22,603.63 365.75,606.95 367.10,609.30 C368.45,611.65 369.85,613.57 371.20,614.70 C372.55,615.83 374.53,615.87 375.20,616.10 Z" fill="#3e2e7a"/>
<line x1="318.90" y1="654.20" x2="509.90" y2="654.20" stroke="#3a3a3a" stroke-width="1.1" />
<path d="M395.00,654.20 C395.90,654.17 398.48,654.28 400.40,654.00 C402.32,653.72 404.48,653.12 406.50,652.50 C408.52,651.88 410.75,651.05 412.50,650.30 C414.25,649.55 415.57,648.87 417.00,648.00 C418.43,647.13 419.93,646.05 421.10,645.10 C422.27,644.15 423.13,643.32 424.00,642.30 C424.87,641.28 425.58,640.18 426.30,639.00 C427.02,637.82 427.72,636.63 428.30,635.20 C428.88,633.77 429.38,632.18 429.80,630.40 C430.22,628.62 430.52,626.52 430.80,624.50 C431.08,622.48 431.23,620.55 431.50,618.30 C431.77,616.05 432.10,613.32 432.40,611.00 C432.70,608.68 432.97,606.65 433.30,604.40 C433.63,602.15 434.07,599.52 434.40,597.50 C434.73,595.48 434.97,593.88 435.30,592.30 C435.63,590.72 436.02,589.10 436.40,588.00 C436.78,586.90 437.17,585.78 437.60,585.70 C438.03,585.62 438.43,586.40 439.00,587.50 C439.57,588.60 440.23,589.77 441.00,592.30 C441.77,594.83 442.82,598.95 443.60,602.70 C444.38,606.45 445.12,611.05 445.70,614.80 C446.28,618.55 446.63,621.67 447.10,625.20 C447.57,628.73 448.02,632.70 448.50,636.00 C448.98,639.30 449.42,642.50 450.00,645.00 C450.58,647.50 451.17,649.67 452.00,651.00 C452.83,652.33 454.08,652.62 455.00,653.00 C455.92,653.38 456.67,653.17 457.50,653.30 C458.33,653.43 459.25,653.65 460.00,653.80 C460.75,653.95 461.67,654.13 462.00,654.20 Z" fill="#000"/>
<line x1="318.90" y1="692.30" x2="509.90" y2="692.30" stroke="#e6e39a" stroke-width="1.1" />
<path d="M406.00,692.30 C407.02,692.27 410.27,692.28 412.10,692.10 C413.93,691.92 415.27,691.53 417.00,691.20 C418.73,690.87 420.83,690.60 422.50,690.10 C424.17,689.60 425.57,688.93 427.00,688.20 C428.43,687.47 429.85,686.82 431.10,685.70 C432.35,684.58 433.48,682.93 434.50,681.50 C435.52,680.07 436.42,678.72 437.20,677.10 C437.98,675.48 438.62,673.53 439.20,671.80 C439.78,670.07 440.23,668.58 440.70,666.70 C441.17,664.82 441.57,662.52 442.00,660.50 C442.43,658.48 442.92,656.60 443.30,654.60 C443.68,652.60 443.97,650.52 444.30,648.50 C444.63,646.48 444.93,644.58 445.30,642.50 C445.67,640.42 446.12,638.02 446.50,636.00 C446.88,633.98 447.22,631.90 447.60,630.40 C447.98,628.90 448.37,627.87 448.80,627.00 C449.23,626.13 449.73,625.20 450.20,625.20 C450.67,625.20 451.17,626.13 451.60,627.00 C452.03,627.87 452.42,628.73 452.80,630.40 C453.18,632.07 453.53,634.70 453.90,637.00 C454.27,639.30 454.65,641.87 455.00,644.20 C455.35,646.53 455.65,648.68 456.00,651.00 C456.35,653.32 456.70,655.77 457.10,658.10 C457.50,660.43 457.97,662.70 458.40,665.00 C458.83,667.30 459.27,669.65 459.70,671.90 C460.13,674.15 460.52,676.48 461.00,678.50 C461.48,680.52 462.02,682.42 462.60,684.00 C463.18,685.58 463.83,686.85 464.50,688.00 C465.17,689.15 465.53,690.22 466.60,690.90 C467.67,691.58 469.67,691.87 470.90,692.10 C472.13,692.33 473.48,692.27 474.00,692.30 Z" fill="#f0e832"/>
<line x1="318.90" y1="730.80" x2="509.90" y2="730.80" stroke="#c9a6cf" stroke-width="1.1" />
<path d="M408.00,730.80 C408.97,730.65 411.80,730.37 413.80,729.90 C415.80,729.43 417.97,728.73 420.00,728.00 C422.03,727.27 424.25,726.33 426.00,725.50 C427.75,724.67 429.07,723.87 430.50,723.00 C431.93,722.13 433.52,721.27 434.60,720.30 C435.68,719.33 436.28,718.35 437.00,717.20 C437.72,716.05 438.37,715.18 438.90,713.40 C439.43,711.62 439.77,708.80 440.20,706.50 C440.63,704.20 441.07,701.93 441.50,699.60 C441.93,697.27 442.37,694.82 442.80,692.50 C443.23,690.18 443.68,688.03 444.10,685.70 C444.52,683.37 444.87,680.80 445.30,678.50 C445.73,676.20 446.28,673.55 446.70,671.90 C447.12,670.25 447.42,669.40 447.80,668.60 C448.18,667.80 448.63,667.07 449.00,667.10 C449.37,667.13 449.67,668.00 450.00,668.80 C450.33,669.60 450.62,671.00 451.00,671.90 C451.38,672.80 451.87,673.62 452.30,674.20 C452.73,674.78 453.22,674.27 453.60,675.40 C453.98,676.53 454.30,678.70 454.60,681.00 C454.90,683.30 455.12,686.37 455.40,689.20 C455.68,692.03 456.02,695.12 456.30,698.00 C456.58,700.88 456.77,704.03 457.10,706.50 C457.43,708.97 457.87,710.78 458.30,712.80 C458.73,714.82 459.22,716.82 459.70,718.60 C460.18,720.38 460.63,722.05 461.20,723.50 C461.77,724.95 462.20,726.18 463.10,727.30 C464.00,728.42 465.45,729.62 466.60,730.20 C467.75,730.78 469.43,730.70 470.00,730.80 Z" fill="#a152a1"/>
<rect x="318.90" y="542.20" width="191.00" height="191.10" fill="none" stroke="#2a2a2a" stroke-width="1.4"/>
<text x="322.10" y="647.00" font-size="8.8" font-family="'Liberation Mono', monospace" font-weight="normal" fill="#151515" stroke="#151515" stroke-width="0.08" xml:space="preserve">ELAGIGILTV (Index)</text>
<text x="322.10" y="684.60" font-size="8.8" font-family="'Liberation Mono', monospace" font-weight="normal" fill="#151515" stroke="#151515" stroke-width="0.08" xml:space="preserve">WLLPAWGV</text>
<text x="322.10" y="724.60" font-size="8.8" font-family="'Liberation Mono', monospace" font-weight="normal" fill="#151515" stroke="#151515" stroke-width="0.08" xml:space="preserve">WLLPTWGV</text>
<text transform="translate(300.3,630.8) rotate(-90)" font-size="13.3" text-anchor="middle" font-family="'Liberation Sans', sans-serif" fill="#111" stroke="#111" stroke-width="0.35" textLength="73.8" lengthAdjust="spacingAndGlyphs">Event Count</text>
<text x="373.10" y="762.20" font-size="11.8" text-anchor="start" font-family="'Liberation Sans', sans-serif" font-weight="normal" fill="#111" stroke="#111" stroke-width="0.25" textLength="83.8" lengthAdjust="spacingAndGlyphs">Tetramer PE MFI</text>
</svg></body></html>
